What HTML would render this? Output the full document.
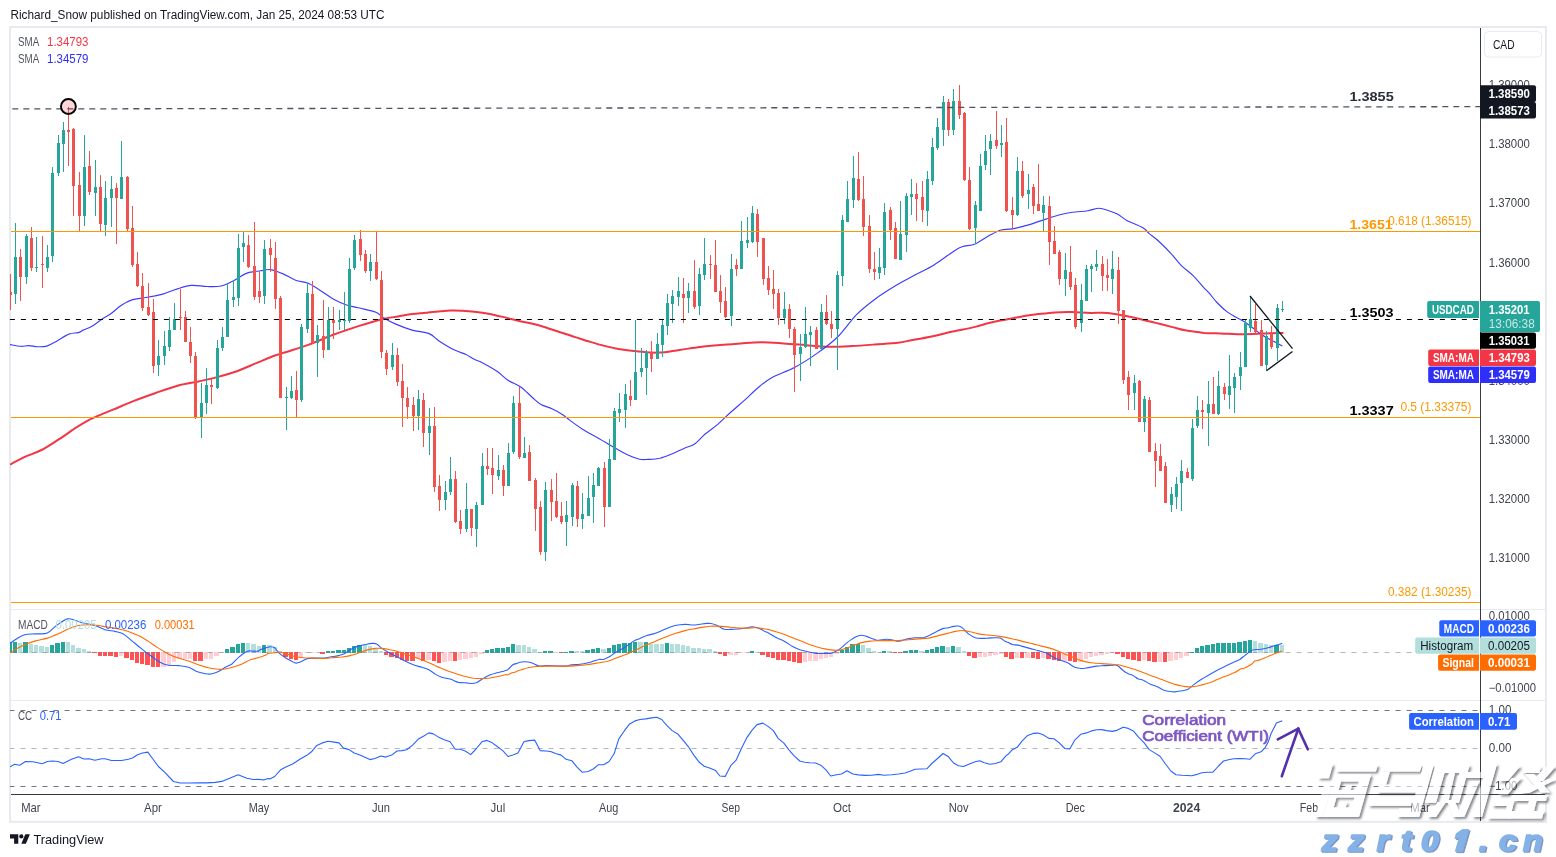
<!DOCTYPE html>
<html><head><meta charset="utf-8"><title>USDCAD chart</title>
<style>html,body{margin:0;padding:0;background:#fff}body{width:1556px;height:857px;overflow:hidden}svg{display:block;font-family:'Liberation Sans',sans-serif;will-change:transform}text{white-space:pre}</style>
</head><body>
<svg width="1556" height="857" viewBox="0 0 1556 857">
<defs><filter id="ws" x="-5%" y="-10%" width="110%" height="125%"><feGaussianBlur in="SourceAlpha" stdDeviation="0.9" result="b"/><feOffset in="b" dx="1.8" dy="1.8" result="o"/><feComposite in="o" in2="SourceAlpha" operator="out" result="sh"/><feFlood flood-color="#2a2e39" flood-opacity="0.55"/><feComposite in2="sh" operator="in" result="shc"/><feComponentTransfer in="SourceGraphic" result="sg"><feFuncA type="linear" slope="0.6"/></feComponentTransfer><feMerge><feMergeNode in="shc"/><feMergeNode in="sg"/></feMerge></filter><clipPath id="plot"><rect x="10" y="28" width="1470" height="766"/></clipPath></defs>
<rect x="0" y="0" width="1556" height="857" fill="#fff"/>
<text x="10.5" y="18.9" font-size="12.3" fill="#131722" textLength="374" lengthAdjust="spacingAndGlyphs">Richard_Snow published on TradingView.com, Jan 25, 2024 08:53 UTC</text>
<rect x="10" y="27" width="1536" height="794.8" fill="none" stroke="#e8eaf0" stroke-width="2"/>
<rect x="11" y="609" width="1534" height="1" fill="#e8eaf0"/>
<rect x="11" y="700" width="1534" height="1" fill="#e8eaf0"/>
<g clip-path="url(#plot)">
<line x1="9.5" y1="710.5" x2="1480" y2="710.5" stroke="#73767f" stroke-width="1" stroke-dasharray="5 6" stroke-dashoffset="0"/>
<line x1="9.5" y1="748.5" x2="1480" y2="748.5" stroke="#b2b5be" stroke-width="1" stroke-dasharray="5 6" stroke-dashoffset="0"/>
<line x1="9.5" y1="786.5" x2="1480" y2="786.5" stroke="#73767f" stroke-width="1" stroke-dasharray="5 6" stroke-dashoffset="0"/>
<path d="M10.5,464.3 C12.9,463.1 19.6,459.3 24.8,456.9 C30.0,454.5 36.0,452.9 41.6,450.0 C47.2,447.1 52.8,443.3 58.4,439.7 C64.0,436.1 70.3,431.4 75.2,428.2 C80.1,425.0 84.3,422.5 87.8,420.6 C91.3,418.7 92.0,418.4 96.2,416.6 C100.4,414.8 106.7,412.3 113.0,409.7 C119.3,407.1 127.0,403.6 134.0,400.9 C141.0,398.1 147.8,395.7 155.0,393.2 C162.2,390.7 170.4,387.6 177.5,385.7 C184.6,383.8 190.7,383.1 197.3,381.7 C203.9,380.3 210.5,378.9 217.1,377.1 C223.7,375.4 230.4,373.6 237.0,371.2 C243.6,368.8 251.2,365.2 256.8,362.9 C262.4,360.6 266.1,358.9 270.5,357.2 C274.9,355.5 276.8,354.9 283.1,352.9 C289.4,350.8 299.9,347.9 308.2,344.9 C316.5,341.9 324.8,337.9 333.2,334.8 C341.6,331.7 349.9,328.7 358.3,326.1 C366.7,323.5 376.8,320.6 383.4,319.0 C390.0,317.4 393.2,317.3 398.0,316.5 C402.8,315.7 407.4,314.7 412.1,314.1 C416.8,313.5 421.6,313.2 426.3,312.7 C431.0,312.2 436.4,311.6 440.4,311.3 C444.4,311.0 446.8,310.7 450.3,310.6 C453.8,310.5 457.6,310.6 461.6,310.8 C465.6,311.0 469.8,311.2 474.3,311.7 C478.8,312.2 483.8,312.8 488.5,313.7 C493.2,314.6 497.7,315.7 502.6,316.9 C507.6,318.1 513.0,319.5 518.2,320.7 C523.4,321.9 528.8,322.8 533.7,324.0 C538.7,325.2 543.2,326.8 547.9,328.2 C552.6,329.6 557.3,331.2 562.0,332.7 C566.7,334.2 571.4,335.9 576.1,337.4 C580.8,338.9 585.6,340.5 590.3,341.9 C595.0,343.3 599.7,344.7 604.4,345.9 C609.1,347.1 612.7,348.0 618.4,348.9 C624.1,349.8 632.0,350.9 638.8,351.5 C645.6,352.1 652.4,352.9 659.2,352.6 C666.0,352.3 672.8,350.8 679.6,349.9 C686.4,349.0 693.2,347.8 700.0,347.0 C706.8,346.2 713.6,345.6 720.4,345.0 C727.2,344.4 734.2,343.9 740.9,343.4 C747.6,342.9 753.7,342.2 760.8,342.2 C767.9,342.2 775.9,342.9 783.5,343.4 C791.1,343.9 798.7,344.6 806.3,345.2 C813.9,345.8 821.4,346.6 829.0,346.8 C836.6,347.0 844.2,346.5 851.8,346.1 C859.4,345.7 866.9,345.1 874.6,344.5 C882.3,343.9 891.7,343.4 898.0,342.7 C904.3,341.9 906.5,341.1 912.5,340.0 C918.5,338.9 927.3,337.3 934.0,335.9 C940.7,334.5 945.9,333.1 952.7,331.6 C959.6,330.1 968.9,328.4 975.1,326.9 C981.3,325.4 984.4,324.1 990.0,322.8 C995.6,321.5 1002.5,320.3 1008.7,319.1 C1014.9,317.9 1022.5,316.2 1027.4,315.4 C1032.3,314.6 1033.4,314.6 1038.0,314.1 C1042.6,313.6 1049.2,312.8 1054.8,312.4 C1060.4,312.0 1065.6,311.9 1071.6,312.0 C1077.5,312.1 1084.5,312.8 1090.5,312.9 C1096.5,313.0 1102.0,312.5 1107.3,312.9 C1112.5,313.3 1116.8,314.2 1122.0,315.2 C1127.2,316.2 1133.2,317.4 1138.8,318.7 C1144.4,320.0 1150.0,321.5 1155.6,322.9 C1161.2,324.3 1167.5,325.9 1172.4,327.1 C1177.3,328.3 1180.7,329.5 1185.0,330.3 C1189.3,331.1 1194.8,331.6 1198.0,332.0 C1201.2,332.4 1200.5,332.6 1204.3,332.9 C1208.1,333.1 1215.2,333.3 1220.7,333.5 C1226.2,333.7 1231.6,334.2 1237.0,334.3 C1242.4,334.4 1247.8,334.2 1253.3,334.0 C1258.8,333.8 1264.8,333.4 1269.7,333.2 C1274.6,333.0 1280.5,332.9 1282.7,332.9" fill="none" stroke="#f23645" stroke-width="2" stroke-linejoin="round" stroke-linecap="round"/>
<path d="M10.5,344.6 C12.2,344.9 17.5,346.1 20.6,346.3 C23.7,346.5 26.2,345.5 29.0,345.6 C31.8,345.7 34.4,346.6 37.4,346.7 C40.4,346.8 43.6,347.0 46.8,346.1 C49.9,345.2 52.6,343.4 56.3,341.4 C60.0,339.4 65.2,335.6 68.9,334.1 C72.6,332.6 75.8,333.3 78.3,332.6 C80.8,331.9 81.3,330.9 83.6,329.9 C85.9,328.8 88.8,328.1 92.0,326.3 C95.2,324.5 99.3,320.9 102.5,318.8 C105.7,316.7 107.8,315.9 110.9,313.7 C114.1,311.4 117.9,307.6 121.4,305.3 C124.9,303.0 128.1,301.1 131.9,299.9 C135.8,298.6 140.7,298.5 144.5,297.8 C148.3,297.1 151.8,296.5 155.0,295.9 C158.2,295.2 159.8,295.1 163.6,293.9 C167.3,292.7 172.9,290.3 177.5,288.9 C182.1,287.5 186.5,285.8 191.4,285.4 C196.3,285.0 202.2,286.4 207.2,286.5 C212.1,286.6 216.8,286.9 221.1,286.0 C225.4,285.1 230.3,282.2 233.0,281.0 C235.7,279.8 234.7,280.0 237.0,278.7 C239.3,277.4 243.0,274.4 246.9,273.1 C250.8,271.8 256.8,271.4 260.7,270.8 C264.6,270.2 266.8,269.1 270.5,269.6 C274.2,270.1 278.9,272.1 283.1,273.9 C287.3,275.7 291.4,278.6 295.6,280.2 C299.8,281.8 304.0,281.4 308.2,283.2 C312.4,284.9 316.5,288.1 320.7,290.7 C324.9,293.3 329.0,296.7 333.2,299.0 C337.4,301.3 341.6,303.2 345.8,304.7 C350.0,306.2 353.3,306.5 358.3,307.8 C363.3,309.1 371.7,310.6 375.9,312.3 C380.1,314.0 380.1,315.8 383.4,317.8 C386.7,319.8 391.1,322.1 395.9,324.1 C400.7,326.2 406.6,328.5 412.1,330.1 C417.6,331.7 424.6,331.8 429.1,333.6 C433.6,335.4 434.8,338.1 439.0,340.9 C443.2,343.6 450.1,347.9 454.6,350.1 C459.1,352.4 462.6,352.9 465.9,354.4 C469.2,355.9 471.5,357.9 474.3,359.3 C477.1,360.7 479.0,360.9 482.8,362.9 C486.6,364.9 492.8,368.4 497.0,371.3 C501.2,374.2 504.3,377.9 508.3,380.5 C512.3,383.1 517.0,384.4 521.0,387.2 C525.0,390.0 528.8,394.3 532.1,397.2 C535.4,400.1 537.7,402.6 541.0,404.5 C544.3,406.4 548.3,407.0 552.0,408.7 C555.7,410.4 560.4,413.2 563.1,414.9 C565.8,416.6 565.0,416.6 568.2,419.0 C571.4,421.4 577.4,426.0 582.5,429.2 C587.6,432.4 593.4,435.3 598.8,438.4 C604.2,441.5 610.3,445.3 615.1,448.0 C619.9,450.7 623.3,452.8 627.4,454.7 C631.5,456.6 636.2,458.4 639.6,459.2 C643.0,460.0 644.4,459.6 647.8,459.4 C651.2,459.2 655.9,459.1 660.0,458.2 C664.1,457.2 668.2,455.4 672.3,453.7 C676.4,452.0 680.8,449.8 684.5,448.2 C688.2,446.6 691.3,446.2 694.7,443.9 C698.1,441.6 701.0,437.6 704.9,434.3 C708.8,431.0 713.6,427.8 718.0,424.1 C722.4,420.4 726.5,416.0 731.0,412.0 C735.5,408.0 740.4,403.9 744.9,399.9 C749.4,395.8 753.5,391.4 758.0,387.7 C762.5,384.0 766.0,380.9 772.1,377.5 C778.2,374.1 787.3,371.4 794.9,367.3 C802.5,363.2 810.5,358.0 817.7,352.9 C824.9,347.8 831.7,342.8 838.1,336.5 C844.5,330.2 850.2,321.1 856.3,314.9 C862.4,308.7 867.9,304.5 874.6,299.5 C881.3,294.5 889.9,289.2 896.7,285.1 C903.5,281.0 909.1,278.2 915.3,274.8 C921.5,271.4 927.8,268.8 934.0,265.0 C940.2,261.2 948.0,255.0 952.7,251.9 C957.4,248.8 958.3,248.0 962.0,246.7 C965.7,245.4 970.4,245.9 975.1,244.0 C979.8,242.1 985.6,237.4 990.0,235.1 C994.4,232.8 997.5,231.0 1001.2,230.0 C1004.9,229.0 1007.7,229.8 1012.4,228.9 C1017.1,228.0 1023.8,226.2 1029.4,224.6 C1035.0,223.0 1040.7,220.7 1045.8,219.1 C1050.9,217.5 1055.6,215.9 1060.0,214.8 C1064.4,213.7 1067.6,213.0 1072.3,212.3 C1077.0,211.6 1083.5,211.4 1088.0,210.7 C1092.5,210.0 1095.5,208.2 1099.0,208.2 C1102.5,208.2 1105.7,209.7 1108.8,210.7 C1111.9,211.7 1114.3,212.3 1117.4,214.0 C1120.5,215.7 1124.1,219.0 1127.2,220.7 C1130.3,222.4 1133.0,223.1 1135.8,224.4 C1138.6,225.7 1142.1,227.2 1144.3,228.7 C1146.5,230.2 1146.8,231.5 1149.2,233.6 C1151.7,235.7 1155.3,238.1 1159.0,241.5 C1162.7,244.9 1167.6,249.8 1171.3,253.8 C1175.0,257.8 1177.4,261.7 1181.1,265.4 C1184.8,269.1 1189.6,272.2 1193.3,275.8 C1197.0,279.4 1200.4,284.0 1203.1,286.9 C1205.8,289.8 1206.8,290.5 1209.2,293.2 C1211.6,295.9 1214.4,299.9 1217.4,303.0 C1220.4,306.1 1223.9,309.4 1227.2,311.9 C1230.5,314.3 1234.0,316.0 1237.0,317.7 C1240.0,319.4 1242.5,320.4 1245.2,322.2 C1247.9,324.0 1250.6,326.2 1253.3,328.3 C1256.0,330.4 1258.8,332.6 1261.5,334.5 C1264.2,336.4 1267.2,338.0 1269.7,339.4 C1272.2,340.8 1274.2,341.6 1276.2,342.7 C1278.2,343.8 1281.0,345.3 1281.9,345.8" fill="none" stroke="#3c3cff" stroke-width="1.15" stroke-linejoin="round" stroke-linecap="round"/>
<rect x="10" y="274" width="1" height="36" fill="#ef5350"/>
<rect x="9" y="292" width="3" height="3" fill="#ef5350"/>
<rect x="15" y="223" width="1" height="81" fill="#26a69a"/>
<rect x="14" y="257" width="3" height="37" fill="#26a69a"/>
<rect x="20" y="249" width="1" height="52" fill="#ef5350"/>
<rect x="19" y="257" width="3" height="20" fill="#ef5350"/>
<rect x="26" y="234" width="1" height="50" fill="#26a69a"/>
<rect x="25" y="236" width="3" height="41" fill="#26a69a"/>
<rect x="31" y="227" width="1" height="44" fill="#ef5350"/>
<rect x="30" y="238" width="3" height="30" fill="#ef5350"/>
<rect x="36" y="237" width="1" height="35" fill="#26a69a"/>
<rect x="35" y="267" width="3" height="1" fill="#26a69a"/>
<rect x="42" y="236" width="1" height="52" fill="#ef5350"/>
<rect x="41" y="264" width="3" height="1" fill="#ef5350"/>
<rect x="47" y="245" width="1" height="27" fill="#26a69a"/>
<rect x="46" y="257" width="3" height="11" fill="#26a69a"/>
<rect x="52" y="167" width="1" height="95" fill="#26a69a"/>
<rect x="51" y="173" width="3" height="83" fill="#26a69a"/>
<rect x="58" y="135" width="1" height="41" fill="#26a69a"/>
<rect x="57" y="143" width="3" height="30" fill="#26a69a"/>
<rect x="63" y="122" width="1" height="50" fill="#26a69a"/>
<rect x="62" y="130" width="3" height="14" fill="#26a69a"/>
<rect x="68" y="107" width="1" height="59" fill="#ef5350"/>
<rect x="67" y="130" width="3" height="2" fill="#ef5350"/>
<rect x="73" y="128" width="1" height="88" fill="#ef5350"/>
<rect x="72" y="129" width="3" height="57" fill="#ef5350"/>
<rect x="79" y="172" width="1" height="59" fill="#ef5350"/>
<rect x="78" y="185" width="3" height="31" fill="#ef5350"/>
<rect x="84" y="135" width="1" height="91" fill="#26a69a"/>
<rect x="83" y="167" width="3" height="49" fill="#26a69a"/>
<rect x="89" y="151" width="1" height="44" fill="#ef5350"/>
<rect x="88" y="166" width="3" height="26" fill="#ef5350"/>
<rect x="95" y="160" width="1" height="56" fill="#26a69a"/>
<rect x="94" y="187" width="3" height="6" fill="#26a69a"/>
<rect x="100" y="175" width="1" height="56" fill="#ef5350"/>
<rect x="99" y="187" width="3" height="37" fill="#ef5350"/>
<rect x="105" y="181" width="1" height="55" fill="#26a69a"/>
<rect x="104" y="198" width="3" height="27" fill="#26a69a"/>
<rect x="111" y="176" width="1" height="51" fill="#26a69a"/>
<rect x="110" y="189" width="3" height="9" fill="#26a69a"/>
<rect x="116" y="183" width="1" height="61" fill="#ef5350"/>
<rect x="115" y="188" width="3" height="10" fill="#ef5350"/>
<rect x="121" y="141" width="1" height="58" fill="#26a69a"/>
<rect x="120" y="177" width="3" height="22" fill="#26a69a"/>
<rect x="127" y="176" width="1" height="55" fill="#ef5350"/>
<rect x="126" y="177" width="3" height="52" fill="#ef5350"/>
<rect x="132" y="206" width="1" height="61" fill="#ef5350"/>
<rect x="131" y="228" width="3" height="37" fill="#ef5350"/>
<rect x="137" y="252" width="1" height="35" fill="#ef5350"/>
<rect x="136" y="264" width="3" height="22" fill="#ef5350"/>
<rect x="142" y="273" width="1" height="38" fill="#ef5350"/>
<rect x="141" y="286" width="3" height="22" fill="#ef5350"/>
<rect x="148" y="283" width="1" height="33" fill="#ef5350"/>
<rect x="147" y="307" width="3" height="8" fill="#ef5350"/>
<rect x="153" y="299" width="1" height="74" fill="#ef5350"/>
<rect x="152" y="312" width="3" height="54" fill="#ef5350"/>
<rect x="158" y="340" width="1" height="36" fill="#26a69a"/>
<rect x="157" y="356" width="3" height="9" fill="#26a69a"/>
<rect x="164" y="331" width="1" height="34" fill="#26a69a"/>
<rect x="163" y="346" width="3" height="10" fill="#26a69a"/>
<rect x="169" y="317" width="1" height="34" fill="#26a69a"/>
<rect x="168" y="330" width="3" height="17" fill="#26a69a"/>
<rect x="174" y="303" width="1" height="27" fill="#26a69a"/>
<rect x="173" y="319" width="3" height="11" fill="#26a69a"/>
<rect x="180" y="289" width="1" height="41" fill="#ef5350"/>
<rect x="179" y="317" width="3" height="1" fill="#ef5350"/>
<rect x="185" y="311" width="1" height="31" fill="#ef5350"/>
<rect x="184" y="317" width="3" height="25" fill="#ef5350"/>
<rect x="190" y="327" width="1" height="36" fill="#ef5350"/>
<rect x="189" y="342" width="3" height="14" fill="#ef5350"/>
<rect x="195" y="352" width="1" height="67" fill="#ef5350"/>
<rect x="194" y="356" width="3" height="61" fill="#ef5350"/>
<rect x="201" y="383" width="1" height="55" fill="#26a69a"/>
<rect x="200" y="403" width="3" height="14" fill="#26a69a"/>
<rect x="206" y="368" width="1" height="46" fill="#26a69a"/>
<rect x="205" y="385" width="3" height="18" fill="#26a69a"/>
<rect x="211" y="379" width="1" height="25" fill="#ef5350"/>
<rect x="210" y="385" width="3" height="2" fill="#ef5350"/>
<rect x="217" y="340" width="1" height="49" fill="#26a69a"/>
<rect x="216" y="348" width="3" height="40" fill="#26a69a"/>
<rect x="222" y="327" width="1" height="24" fill="#26a69a"/>
<rect x="221" y="337" width="3" height="11" fill="#26a69a"/>
<rect x="227" y="284" width="1" height="53" fill="#26a69a"/>
<rect x="226" y="300" width="3" height="37" fill="#26a69a"/>
<rect x="233" y="280" width="1" height="27" fill="#26a69a"/>
<rect x="232" y="297" width="3" height="3" fill="#26a69a"/>
<rect x="238" y="234" width="1" height="72" fill="#26a69a"/>
<rect x="237" y="248" width="3" height="50" fill="#26a69a"/>
<rect x="243" y="232" width="1" height="30" fill="#26a69a"/>
<rect x="242" y="243" width="3" height="4" fill="#26a69a"/>
<rect x="248" y="235" width="1" height="33" fill="#ef5350"/>
<rect x="247" y="245" width="3" height="22" fill="#ef5350"/>
<rect x="254" y="222" width="1" height="78" fill="#ef5350"/>
<rect x="253" y="266" width="3" height="31" fill="#ef5350"/>
<rect x="259" y="271" width="1" height="32" fill="#ef5350"/>
<rect x="258" y="291" width="3" height="6" fill="#ef5350"/>
<rect x="264" y="240" width="1" height="64" fill="#26a69a"/>
<rect x="263" y="249" width="3" height="47" fill="#26a69a"/>
<rect x="270" y="239" width="1" height="33" fill="#ef5350"/>
<rect x="269" y="248" width="3" height="7" fill="#ef5350"/>
<rect x="275" y="242" width="1" height="67" fill="#ef5350"/>
<rect x="274" y="258" width="3" height="41" fill="#ef5350"/>
<rect x="280" y="296" width="1" height="102" fill="#ef5350"/>
<rect x="279" y="298" width="3" height="100" fill="#ef5350"/>
<rect x="286" y="387" width="1" height="43" fill="#26a69a"/>
<rect x="285" y="397" width="3" height="1" fill="#26a69a"/>
<rect x="291" y="376" width="1" height="23" fill="#26a69a"/>
<rect x="290" y="391" width="3" height="7" fill="#26a69a"/>
<rect x="296" y="371" width="1" height="47" fill="#ef5350"/>
<rect x="295" y="390" width="3" height="10" fill="#ef5350"/>
<rect x="301" y="324" width="1" height="78" fill="#26a69a"/>
<rect x="300" y="327" width="3" height="73" fill="#26a69a"/>
<rect x="307" y="283" width="1" height="50" fill="#26a69a"/>
<rect x="306" y="293" width="3" height="36" fill="#26a69a"/>
<rect x="312" y="281" width="1" height="63" fill="#ef5350"/>
<rect x="311" y="294" width="3" height="49" fill="#ef5350"/>
<rect x="317" y="325" width="1" height="52" fill="#26a69a"/>
<rect x="316" y="335" width="3" height="8" fill="#26a69a"/>
<rect x="323" y="300" width="1" height="58" fill="#ef5350"/>
<rect x="322" y="336" width="3" height="14" fill="#ef5350"/>
<rect x="328" y="307" width="1" height="43" fill="#26a69a"/>
<rect x="327" y="320" width="3" height="30" fill="#26a69a"/>
<rect x="333" y="307" width="1" height="32" fill="#ef5350"/>
<rect x="332" y="320" width="3" height="3" fill="#ef5350"/>
<rect x="339" y="310" width="1" height="20" fill="#26a69a"/>
<rect x="338" y="320" width="3" height="2" fill="#26a69a"/>
<rect x="344" y="292" width="1" height="38" fill="#26a69a"/>
<rect x="343" y="320" width="3" height="1" fill="#26a69a"/>
<rect x="349" y="258" width="1" height="65" fill="#26a69a"/>
<rect x="348" y="269" width="3" height="52" fill="#26a69a"/>
<rect x="354" y="235" width="1" height="35" fill="#26a69a"/>
<rect x="353" y="240" width="3" height="28" fill="#26a69a"/>
<rect x="360" y="230" width="1" height="31" fill="#ef5350"/>
<rect x="359" y="239" width="3" height="16" fill="#ef5350"/>
<rect x="365" y="250" width="1" height="23" fill="#ef5350"/>
<rect x="364" y="254" width="3" height="17" fill="#ef5350"/>
<rect x="370" y="254" width="1" height="27" fill="#26a69a"/>
<rect x="369" y="262" width="3" height="9" fill="#26a69a"/>
<rect x="376" y="231" width="1" height="49" fill="#ef5350"/>
<rect x="375" y="262" width="3" height="17" fill="#ef5350"/>
<rect x="381" y="271" width="1" height="87" fill="#ef5350"/>
<rect x="380" y="280" width="3" height="72" fill="#ef5350"/>
<rect x="386" y="350" width="1" height="25" fill="#ef5350"/>
<rect x="385" y="353" width="3" height="16" fill="#ef5350"/>
<rect x="392" y="343" width="1" height="27" fill="#26a69a"/>
<rect x="391" y="355" width="3" height="12" fill="#26a69a"/>
<rect x="397" y="348" width="1" height="38" fill="#ef5350"/>
<rect x="396" y="355" width="3" height="27" fill="#ef5350"/>
<rect x="402" y="364" width="1" height="63" fill="#ef5350"/>
<rect x="401" y="381" width="3" height="17" fill="#ef5350"/>
<rect x="407" y="387" width="1" height="32" fill="#ef5350"/>
<rect x="406" y="398" width="3" height="9" fill="#ef5350"/>
<rect x="413" y="397" width="1" height="34" fill="#ef5350"/>
<rect x="412" y="405" width="3" height="11" fill="#ef5350"/>
<rect x="418" y="390" width="1" height="40" fill="#26a69a"/>
<rect x="417" y="399" width="3" height="17" fill="#26a69a"/>
<rect x="423" y="393" width="1" height="54" fill="#ef5350"/>
<rect x="422" y="400" width="3" height="33" fill="#ef5350"/>
<rect x="429" y="408" width="1" height="47" fill="#26a69a"/>
<rect x="428" y="426" width="3" height="7" fill="#26a69a"/>
<rect x="434" y="407" width="1" height="85" fill="#ef5350"/>
<rect x="433" y="426" width="3" height="61" fill="#ef5350"/>
<rect x="439" y="475" width="1" height="36" fill="#ef5350"/>
<rect x="438" y="486" width="3" height="14" fill="#ef5350"/>
<rect x="445" y="481" width="1" height="29" fill="#26a69a"/>
<rect x="444" y="492" width="3" height="8" fill="#26a69a"/>
<rect x="450" y="457" width="1" height="38" fill="#26a69a"/>
<rect x="449" y="479" width="3" height="13" fill="#26a69a"/>
<rect x="455" y="471" width="1" height="52" fill="#ef5350"/>
<rect x="454" y="479" width="3" height="43" fill="#ef5350"/>
<rect x="460" y="510" width="1" height="24" fill="#ef5350"/>
<rect x="459" y="521" width="3" height="8" fill="#ef5350"/>
<rect x="466" y="483" width="1" height="49" fill="#26a69a"/>
<rect x="465" y="509" width="3" height="20" fill="#26a69a"/>
<rect x="471" y="509" width="1" height="27" fill="#ef5350"/>
<rect x="470" y="509" width="3" height="19" fill="#ef5350"/>
<rect x="476" y="502" width="1" height="45" fill="#26a69a"/>
<rect x="475" y="505" width="3" height="24" fill="#26a69a"/>
<rect x="482" y="453" width="1" height="52" fill="#26a69a"/>
<rect x="481" y="466" width="3" height="39" fill="#26a69a"/>
<rect x="487" y="448" width="1" height="27" fill="#ef5350"/>
<rect x="486" y="466" width="3" height="3" fill="#ef5350"/>
<rect x="492" y="448" width="1" height="46" fill="#ef5350"/>
<rect x="491" y="468" width="3" height="7" fill="#ef5350"/>
<rect x="498" y="455" width="1" height="25" fill="#26a69a"/>
<rect x="497" y="470" width="3" height="6" fill="#26a69a"/>
<rect x="503" y="465" width="1" height="31" fill="#ef5350"/>
<rect x="502" y="470" width="3" height="16" fill="#ef5350"/>
<rect x="508" y="443" width="1" height="43" fill="#26a69a"/>
<rect x="507" y="453" width="3" height="33" fill="#26a69a"/>
<rect x="513" y="396" width="1" height="58" fill="#26a69a"/>
<rect x="512" y="403" width="3" height="49" fill="#26a69a"/>
<rect x="519" y="387" width="1" height="72" fill="#ef5350"/>
<rect x="518" y="403" width="3" height="54" fill="#ef5350"/>
<rect x="524" y="437" width="1" height="21" fill="#26a69a"/>
<rect x="523" y="453" width="3" height="5" fill="#26a69a"/>
<rect x="529" y="445" width="1" height="36" fill="#ef5350"/>
<rect x="528" y="452" width="3" height="29" fill="#ef5350"/>
<rect x="535" y="478" width="1" height="53" fill="#ef5350"/>
<rect x="534" y="480" width="3" height="29" fill="#ef5350"/>
<rect x="540" y="501" width="1" height="54" fill="#ef5350"/>
<rect x="539" y="507" width="3" height="45" fill="#ef5350"/>
<rect x="545" y="482" width="1" height="79" fill="#26a69a"/>
<rect x="544" y="490" width="3" height="62" fill="#26a69a"/>
<rect x="551" y="479" width="1" height="42" fill="#ef5350"/>
<rect x="550" y="490" width="3" height="12" fill="#ef5350"/>
<rect x="556" y="473" width="1" height="45" fill="#ef5350"/>
<rect x="555" y="501" width="3" height="16" fill="#ef5350"/>
<rect x="561" y="502" width="1" height="22" fill="#ef5350"/>
<rect x="560" y="516" width="3" height="6" fill="#ef5350"/>
<rect x="566" y="501" width="1" height="45" fill="#26a69a"/>
<rect x="565" y="515" width="3" height="7" fill="#26a69a"/>
<rect x="572" y="483" width="1" height="43" fill="#26a69a"/>
<rect x="571" y="485" width="3" height="32" fill="#26a69a"/>
<rect x="577" y="481" width="1" height="46" fill="#ef5350"/>
<rect x="576" y="486" width="3" height="33" fill="#ef5350"/>
<rect x="582" y="493" width="1" height="36" fill="#26a69a"/>
<rect x="581" y="514" width="3" height="5" fill="#26a69a"/>
<rect x="588" y="476" width="1" height="40" fill="#26a69a"/>
<rect x="587" y="498" width="3" height="18" fill="#26a69a"/>
<rect x="593" y="473" width="1" height="50" fill="#26a69a"/>
<rect x="592" y="485" width="3" height="12" fill="#26a69a"/>
<rect x="598" y="467" width="1" height="19" fill="#26a69a"/>
<rect x="597" y="468" width="3" height="18" fill="#26a69a"/>
<rect x="604" y="462" width="1" height="65" fill="#ef5350"/>
<rect x="603" y="468" width="3" height="39" fill="#ef5350"/>
<rect x="609" y="439" width="1" height="68" fill="#26a69a"/>
<rect x="608" y="459" width="3" height="48" fill="#26a69a"/>
<rect x="614" y="408" width="1" height="52" fill="#26a69a"/>
<rect x="613" y="411" width="3" height="49" fill="#26a69a"/>
<rect x="619" y="393" width="1" height="29" fill="#26a69a"/>
<rect x="618" y="409" width="3" height="4" fill="#26a69a"/>
<rect x="625" y="384" width="1" height="44" fill="#26a69a"/>
<rect x="624" y="394" width="3" height="16" fill="#26a69a"/>
<rect x="630" y="380" width="1" height="26" fill="#ef5350"/>
<rect x="629" y="396" width="3" height="4" fill="#ef5350"/>
<rect x="635" y="320" width="1" height="80" fill="#26a69a"/>
<rect x="634" y="372" width="3" height="28" fill="#26a69a"/>
<rect x="641" y="348" width="1" height="29" fill="#26a69a"/>
<rect x="640" y="368" width="3" height="4" fill="#26a69a"/>
<rect x="646" y="350" width="1" height="45" fill="#26a69a"/>
<rect x="645" y="352" width="3" height="16" fill="#26a69a"/>
<rect x="651" y="341" width="1" height="31" fill="#ef5350"/>
<rect x="650" y="352" width="3" height="7" fill="#ef5350"/>
<rect x="657" y="333" width="1" height="26" fill="#26a69a"/>
<rect x="656" y="344" width="3" height="15" fill="#26a69a"/>
<rect x="662" y="319" width="1" height="38" fill="#26a69a"/>
<rect x="661" y="325" width="3" height="20" fill="#26a69a"/>
<rect x="667" y="294" width="1" height="41" fill="#26a69a"/>
<rect x="666" y="303" width="3" height="23" fill="#26a69a"/>
<rect x="672" y="290" width="1" height="33" fill="#26a69a"/>
<rect x="671" y="296" width="3" height="8" fill="#26a69a"/>
<rect x="678" y="277" width="1" height="29" fill="#26a69a"/>
<rect x="677" y="291" width="3" height="6" fill="#26a69a"/>
<rect x="683" y="278" width="1" height="45" fill="#ef5350"/>
<rect x="682" y="294" width="3" height="4" fill="#ef5350"/>
<rect x="688" y="283" width="1" height="30" fill="#26a69a"/>
<rect x="687" y="291" width="3" height="7" fill="#26a69a"/>
<rect x="694" y="260" width="1" height="49" fill="#ef5350"/>
<rect x="693" y="291" width="3" height="16" fill="#ef5350"/>
<rect x="699" y="268" width="1" height="47" fill="#26a69a"/>
<rect x="698" y="274" width="3" height="32" fill="#26a69a"/>
<rect x="704" y="238" width="1" height="42" fill="#26a69a"/>
<rect x="703" y="264" width="3" height="11" fill="#26a69a"/>
<rect x="710" y="255" width="1" height="24" fill="#ef5350"/>
<rect x="709" y="264" width="3" height="1" fill="#ef5350"/>
<rect x="715" y="240" width="1" height="52" fill="#ef5350"/>
<rect x="714" y="265" width="3" height="27" fill="#ef5350"/>
<rect x="720" y="275" width="1" height="38" fill="#ef5350"/>
<rect x="719" y="291" width="3" height="11" fill="#ef5350"/>
<rect x="725" y="287" width="1" height="31" fill="#ef5350"/>
<rect x="724" y="301" width="3" height="16" fill="#ef5350"/>
<rect x="731" y="254" width="1" height="72" fill="#26a69a"/>
<rect x="730" y="269" width="3" height="47" fill="#26a69a"/>
<rect x="736" y="259" width="1" height="17" fill="#ef5350"/>
<rect x="735" y="265" width="3" height="4" fill="#ef5350"/>
<rect x="741" y="221" width="1" height="48" fill="#26a69a"/>
<rect x="740" y="241" width="3" height="28" fill="#26a69a"/>
<rect x="747" y="217" width="1" height="31" fill="#26a69a"/>
<rect x="746" y="240" width="3" height="3" fill="#26a69a"/>
<rect x="752" y="206" width="1" height="37" fill="#26a69a"/>
<rect x="751" y="213" width="3" height="29" fill="#26a69a"/>
<rect x="757" y="209" width="1" height="48" fill="#ef5350"/>
<rect x="756" y="214" width="3" height="28" fill="#ef5350"/>
<rect x="763" y="238" width="1" height="47" fill="#ef5350"/>
<rect x="762" y="238" width="3" height="41" fill="#ef5350"/>
<rect x="768" y="266" width="1" height="29" fill="#ef5350"/>
<rect x="767" y="278" width="3" height="12" fill="#ef5350"/>
<rect x="773" y="270" width="1" height="39" fill="#ef5350"/>
<rect x="772" y="289" width="3" height="5" fill="#ef5350"/>
<rect x="778" y="289" width="1" height="36" fill="#ef5350"/>
<rect x="777" y="293" width="3" height="25" fill="#ef5350"/>
<rect x="784" y="292" width="1" height="32" fill="#26a69a"/>
<rect x="783" y="309" width="3" height="9" fill="#26a69a"/>
<rect x="789" y="304" width="1" height="34" fill="#ef5350"/>
<rect x="788" y="309" width="3" height="20" fill="#ef5350"/>
<rect x="794" y="327" width="1" height="65" fill="#ef5350"/>
<rect x="793" y="329" width="3" height="26" fill="#ef5350"/>
<rect x="800" y="334" width="1" height="47" fill="#26a69a"/>
<rect x="799" y="347" width="3" height="7" fill="#26a69a"/>
<rect x="805" y="307" width="1" height="41" fill="#26a69a"/>
<rect x="804" y="334" width="3" height="13" fill="#26a69a"/>
<rect x="810" y="326" width="1" height="40" fill="#26a69a"/>
<rect x="809" y="332" width="3" height="3" fill="#26a69a"/>
<rect x="816" y="327" width="1" height="22" fill="#ef5350"/>
<rect x="815" y="330" width="3" height="19" fill="#ef5350"/>
<rect x="821" y="304" width="1" height="46" fill="#26a69a"/>
<rect x="820" y="312" width="3" height="37" fill="#26a69a"/>
<rect x="826" y="295" width="1" height="30" fill="#ef5350"/>
<rect x="825" y="312" width="3" height="12" fill="#ef5350"/>
<rect x="831" y="311" width="1" height="27" fill="#ef5350"/>
<rect x="830" y="324" width="3" height="5" fill="#ef5350"/>
<rect x="837" y="271" width="1" height="99" fill="#26a69a"/>
<rect x="836" y="275" width="3" height="54" fill="#26a69a"/>
<rect x="842" y="215" width="1" height="71" fill="#26a69a"/>
<rect x="841" y="220" width="3" height="56" fill="#26a69a"/>
<rect x="847" y="181" width="1" height="41" fill="#26a69a"/>
<rect x="846" y="199" width="3" height="23" fill="#26a69a"/>
<rect x="853" y="156" width="1" height="52" fill="#26a69a"/>
<rect x="852" y="178" width="3" height="22" fill="#26a69a"/>
<rect x="858" y="152" width="1" height="49" fill="#ef5350"/>
<rect x="857" y="179" width="3" height="21" fill="#ef5350"/>
<rect x="863" y="176" width="1" height="60" fill="#ef5350"/>
<rect x="862" y="199" width="3" height="28" fill="#ef5350"/>
<rect x="869" y="215" width="1" height="58" fill="#ef5350"/>
<rect x="868" y="226" width="3" height="43" fill="#ef5350"/>
<rect x="874" y="252" width="1" height="28" fill="#ef5350"/>
<rect x="873" y="269" width="3" height="3" fill="#ef5350"/>
<rect x="879" y="248" width="1" height="31" fill="#26a69a"/>
<rect x="878" y="267" width="3" height="6" fill="#26a69a"/>
<rect x="884" y="203" width="1" height="72" fill="#26a69a"/>
<rect x="883" y="212" width="3" height="56" fill="#26a69a"/>
<rect x="890" y="207" width="1" height="33" fill="#ef5350"/>
<rect x="889" y="210" width="3" height="20" fill="#ef5350"/>
<rect x="895" y="222" width="1" height="37" fill="#ef5350"/>
<rect x="894" y="228" width="3" height="31" fill="#ef5350"/>
<rect x="900" y="201" width="1" height="59" fill="#26a69a"/>
<rect x="899" y="234" width="3" height="26" fill="#26a69a"/>
<rect x="906" y="193" width="1" height="59" fill="#26a69a"/>
<rect x="905" y="196" width="3" height="39" fill="#26a69a"/>
<rect x="911" y="179" width="1" height="36" fill="#26a69a"/>
<rect x="910" y="194" width="3" height="3" fill="#26a69a"/>
<rect x="916" y="183" width="1" height="38" fill="#ef5350"/>
<rect x="915" y="194" width="3" height="5" fill="#ef5350"/>
<rect x="922" y="181" width="1" height="41" fill="#ef5350"/>
<rect x="921" y="197" width="3" height="13" fill="#ef5350"/>
<rect x="927" y="171" width="1" height="55" fill="#26a69a"/>
<rect x="926" y="179" width="3" height="32" fill="#26a69a"/>
<rect x="932" y="138" width="1" height="47" fill="#26a69a"/>
<rect x="931" y="147" width="3" height="34" fill="#26a69a"/>
<rect x="937" y="118" width="1" height="32" fill="#26a69a"/>
<rect x="936" y="127" width="3" height="21" fill="#26a69a"/>
<rect x="943" y="96" width="1" height="50" fill="#26a69a"/>
<rect x="942" y="102" width="3" height="28" fill="#26a69a"/>
<rect x="948" y="99" width="1" height="37" fill="#ef5350"/>
<rect x="947" y="102" width="3" height="28" fill="#ef5350"/>
<rect x="953" y="89" width="1" height="46" fill="#26a69a"/>
<rect x="952" y="101" width="3" height="29" fill="#26a69a"/>
<rect x="959" y="85" width="1" height="34" fill="#ef5350"/>
<rect x="958" y="101" width="3" height="14" fill="#ef5350"/>
<rect x="964" y="112" width="1" height="69" fill="#ef5350"/>
<rect x="963" y="113" width="3" height="67" fill="#ef5350"/>
<rect x="969" y="167" width="1" height="63" fill="#ef5350"/>
<rect x="968" y="180" width="3" height="49" fill="#ef5350"/>
<rect x="975" y="201" width="1" height="43" fill="#26a69a"/>
<rect x="974" y="205" width="3" height="23" fill="#26a69a"/>
<rect x="980" y="154" width="1" height="57" fill="#26a69a"/>
<rect x="979" y="166" width="3" height="45" fill="#26a69a"/>
<rect x="985" y="135" width="1" height="35" fill="#26a69a"/>
<rect x="984" y="151" width="3" height="14" fill="#26a69a"/>
<rect x="990" y="134" width="1" height="41" fill="#26a69a"/>
<rect x="989" y="141" width="3" height="8" fill="#26a69a"/>
<rect x="996" y="111" width="1" height="38" fill="#ef5350"/>
<rect x="995" y="140" width="3" height="6" fill="#ef5350"/>
<rect x="1001" y="125" width="1" height="32" fill="#26a69a"/>
<rect x="1000" y="143" width="3" height="2" fill="#26a69a"/>
<rect x="1006" y="118" width="1" height="94" fill="#ef5350"/>
<rect x="1005" y="142" width="3" height="69" fill="#ef5350"/>
<rect x="1012" y="197" width="1" height="32" fill="#ef5350"/>
<rect x="1011" y="210" width="3" height="5" fill="#ef5350"/>
<rect x="1017" y="157" width="1" height="59" fill="#26a69a"/>
<rect x="1016" y="171" width="3" height="44" fill="#26a69a"/>
<rect x="1022" y="161" width="1" height="37" fill="#ef5350"/>
<rect x="1021" y="171" width="3" height="25" fill="#ef5350"/>
<rect x="1028" y="174" width="1" height="35" fill="#26a69a"/>
<rect x="1027" y="190" width="3" height="4" fill="#26a69a"/>
<rect x="1033" y="184" width="1" height="30" fill="#ef5350"/>
<rect x="1032" y="187" width="3" height="19" fill="#ef5350"/>
<rect x="1038" y="164" width="1" height="47" fill="#ef5350"/>
<rect x="1037" y="204" width="3" height="7" fill="#ef5350"/>
<rect x="1043" y="196" width="1" height="35" fill="#26a69a"/>
<rect x="1042" y="205" width="3" height="8" fill="#26a69a"/>
<rect x="1049" y="196" width="1" height="69" fill="#ef5350"/>
<rect x="1048" y="206" width="3" height="36" fill="#ef5350"/>
<rect x="1054" y="226" width="1" height="28" fill="#ef5350"/>
<rect x="1053" y="241" width="3" height="13" fill="#ef5350"/>
<rect x="1059" y="250" width="1" height="35" fill="#ef5350"/>
<rect x="1058" y="252" width="3" height="27" fill="#ef5350"/>
<rect x="1065" y="253" width="1" height="43" fill="#26a69a"/>
<rect x="1064" y="270" width="3" height="9" fill="#26a69a"/>
<rect x="1070" y="246" width="1" height="44" fill="#ef5350"/>
<rect x="1069" y="272" width="3" height="15" fill="#ef5350"/>
<rect x="1075" y="278" width="1" height="51" fill="#ef5350"/>
<rect x="1074" y="285" width="3" height="42" fill="#ef5350"/>
<rect x="1081" y="284" width="1" height="48" fill="#26a69a"/>
<rect x="1080" y="300" width="3" height="23" fill="#26a69a"/>
<rect x="1086" y="265" width="1" height="36" fill="#26a69a"/>
<rect x="1085" y="269" width="3" height="32" fill="#26a69a"/>
<rect x="1091" y="264" width="1" height="28" fill="#26a69a"/>
<rect x="1090" y="266" width="3" height="3" fill="#26a69a"/>
<rect x="1096" y="250" width="1" height="21" fill="#26a69a"/>
<rect x="1095" y="264" width="3" height="3" fill="#26a69a"/>
<rect x="1102" y="256" width="1" height="35" fill="#ef5350"/>
<rect x="1101" y="264" width="3" height="12" fill="#ef5350"/>
<rect x="1107" y="259" width="1" height="32" fill="#ef5350"/>
<rect x="1106" y="275" width="3" height="3" fill="#ef5350"/>
<rect x="1112" y="251" width="1" height="43" fill="#26a69a"/>
<rect x="1111" y="269" width="3" height="10" fill="#26a69a"/>
<rect x="1118" y="257" width="1" height="67" fill="#ef5350"/>
<rect x="1117" y="270" width="3" height="41" fill="#ef5350"/>
<rect x="1123" y="310" width="1" height="74" fill="#ef5350"/>
<rect x="1122" y="310" width="3" height="70" fill="#ef5350"/>
<rect x="1128" y="371" width="1" height="39" fill="#ef5350"/>
<rect x="1127" y="377" width="3" height="18" fill="#ef5350"/>
<rect x="1134" y="375" width="1" height="35" fill="#26a69a"/>
<rect x="1133" y="383" width="3" height="10" fill="#26a69a"/>
<rect x="1139" y="380" width="1" height="42" fill="#ef5350"/>
<rect x="1138" y="381" width="3" height="41" fill="#ef5350"/>
<rect x="1144" y="396" width="1" height="36" fill="#26a69a"/>
<rect x="1143" y="399" width="3" height="23" fill="#26a69a"/>
<rect x="1149" y="397" width="1" height="55" fill="#ef5350"/>
<rect x="1148" y="400" width="3" height="52" fill="#ef5350"/>
<rect x="1155" y="443" width="1" height="44" fill="#ef5350"/>
<rect x="1154" y="451" width="3" height="10" fill="#ef5350"/>
<rect x="1160" y="444" width="1" height="27" fill="#ef5350"/>
<rect x="1159" y="456" width="3" height="15" fill="#ef5350"/>
<rect x="1165" y="462" width="1" height="41" fill="#ef5350"/>
<rect x="1164" y="466" width="3" height="37" fill="#ef5350"/>
<rect x="1171" y="487" width="1" height="25" fill="#26a69a"/>
<rect x="1170" y="494" width="3" height="11" fill="#26a69a"/>
<rect x="1176" y="477" width="1" height="32" fill="#26a69a"/>
<rect x="1175" y="484" width="3" height="13" fill="#26a69a"/>
<rect x="1181" y="460" width="1" height="51" fill="#26a69a"/>
<rect x="1180" y="471" width="3" height="12" fill="#26a69a"/>
<rect x="1187" y="468" width="1" height="10" fill="#ef5350"/>
<rect x="1186" y="472" width="3" height="6" fill="#ef5350"/>
<rect x="1192" y="419" width="1" height="62" fill="#26a69a"/>
<rect x="1191" y="428" width="3" height="51" fill="#26a69a"/>
<rect x="1197" y="396" width="1" height="32" fill="#26a69a"/>
<rect x="1196" y="410" width="3" height="16" fill="#26a69a"/>
<rect x="1202" y="400" width="1" height="29" fill="#ef5350"/>
<rect x="1201" y="410" width="3" height="2" fill="#ef5350"/>
<rect x="1208" y="381" width="1" height="65" fill="#26a69a"/>
<rect x="1207" y="404" width="3" height="9" fill="#26a69a"/>
<rect x="1213" y="377" width="1" height="37" fill="#ef5350"/>
<rect x="1212" y="404" width="3" height="10" fill="#ef5350"/>
<rect x="1218" y="371" width="1" height="44" fill="#26a69a"/>
<rect x="1217" y="386" width="3" height="28" fill="#26a69a"/>
<rect x="1224" y="383" width="1" height="17" fill="#ef5350"/>
<rect x="1223" y="387" width="3" height="7" fill="#ef5350"/>
<rect x="1229" y="355" width="1" height="54" fill="#26a69a"/>
<rect x="1228" y="386" width="3" height="9" fill="#26a69a"/>
<rect x="1234" y="373" width="1" height="40" fill="#26a69a"/>
<rect x="1233" y="377" width="3" height="11" fill="#26a69a"/>
<rect x="1240" y="352" width="1" height="38" fill="#26a69a"/>
<rect x="1239" y="367" width="3" height="9" fill="#26a69a"/>
<rect x="1245" y="320" width="1" height="47" fill="#26a69a"/>
<rect x="1244" y="323" width="3" height="44" fill="#26a69a"/>
<rect x="1250" y="296" width="1" height="36" fill="#26a69a"/>
<rect x="1249" y="319" width="3" height="9" fill="#26a69a"/>
<rect x="1255" y="304" width="1" height="29" fill="#ef5350"/>
<rect x="1254" y="321" width="3" height="11" fill="#ef5350"/>
<rect x="1261" y="320" width="1" height="46" fill="#ef5350"/>
<rect x="1260" y="330" width="3" height="36" fill="#ef5350"/>
<rect x="1266" y="331" width="1" height="39" fill="#26a69a"/>
<rect x="1265" y="336" width="3" height="29" fill="#26a69a"/>
<rect x="1271" y="326" width="1" height="23" fill="#ef5350"/>
<rect x="1270" y="334" width="3" height="13" fill="#ef5350"/>
<rect x="1277" y="304" width="1" height="57" fill="#26a69a"/>
<rect x="1276" y="308" width="3" height="40" fill="#26a69a"/>
<rect x="1282" y="301" width="1" height="11" fill="#26a69a"/>
<rect x="1281" y="309" width="3" height="1" fill="#26a69a"/>
<rect x="11" y="231.0" width="1469.5" height="1" fill="#ff9800"/>
<rect x="11" y="417.0" width="1469.5" height="1" fill="#ff9800"/>
<rect x="11" y="602.0" width="1469.5" height="1" fill="#ff9800"/>
<line x1="12.3" y1="108.95" x2="1480" y2="106.66" stroke="#4f5360" stroke-width="1.3" stroke-dasharray="6 5"/>
<line x1="9.9" y1="319.5" x2="1480" y2="319.5" stroke="#000" stroke-width="1.15" stroke-dasharray="5 6" stroke-dashoffset="0"/>
<rect x="8" y="642" width="4" height="11" fill="#26a69a"/>
<rect x="13" y="642" width="4" height="11" fill="#26a69a"/>
<rect x="18" y="643" width="4" height="10" fill="#b2dfdb"/>
<rect x="23" y="642" width="5" height="11" fill="#26a69a"/>
<rect x="29" y="644" width="4" height="9" fill="#b2dfdb"/>
<rect x="34" y="645" width="4" height="8" fill="#b2dfdb"/>
<rect x="39" y="646" width="5" height="7" fill="#b2dfdb"/>
<rect x="45" y="647" width="4" height="6" fill="#b2dfdb"/>
<rect x="50" y="645" width="4" height="8" fill="#26a69a"/>
<rect x="55" y="643" width="5" height="10" fill="#26a69a"/>
<rect x="61" y="642" width="4" height="11" fill="#26a69a"/>
<rect x="66" y="642" width="4" height="11" fill="#b2dfdb"/>
<rect x="71" y="645" width="4" height="8" fill="#b2dfdb"/>
<rect x="76" y="648" width="5" height="5" fill="#b2dfdb"/>
<rect x="82" y="649" width="4" height="4" fill="#b2dfdb"/>
<rect x="87" y="651" width="4" height="2" fill="#b2dfdb"/>
<rect x="92" y="652" width="5" height="1" fill="#ff5252"/>
<rect x="98" y="652" width="4" height="4" fill="#ff5252"/>
<rect x="103" y="652" width="4" height="4" fill="#ff5252"/>
<rect x="108" y="652" width="5" height="4" fill="#ff5252"/>
<rect x="114" y="652" width="4" height="5" fill="#ff5252"/>
<rect x="119" y="652" width="4" height="4" fill="#ffcdd2"/>
<rect x="124" y="652" width="5" height="6" fill="#ff5252"/>
<rect x="130" y="652" width="4" height="8" fill="#ff5252"/>
<rect x="135" y="652" width="4" height="11" fill="#ff5252"/>
<rect x="140" y="652" width="4" height="12" fill="#ff5252"/>
<rect x="145" y="652" width="5" height="13" fill="#ff5252"/>
<rect x="151" y="652" width="4" height="15" fill="#ff5252"/>
<rect x="156" y="652" width="4" height="15" fill="#ff5252"/>
<rect x="161" y="652" width="5" height="15" fill="#ffcdd2"/>
<rect x="167" y="652" width="4" height="13" fill="#ffcdd2"/>
<rect x="172" y="652" width="4" height="10" fill="#ffcdd2"/>
<rect x="177" y="652" width="5" height="7" fill="#ffcdd2"/>
<rect x="183" y="652" width="4" height="7" fill="#ffcdd2"/>
<rect x="188" y="652" width="4" height="7" fill="#ffcdd2"/>
<rect x="193" y="652" width="4" height="9" fill="#ff5252"/>
<rect x="198" y="652" width="5" height="9" fill="#ff5252"/>
<rect x="204" y="652" width="4" height="7" fill="#ffcdd2"/>
<rect x="209" y="652" width="4" height="7" fill="#ffcdd2"/>
<rect x="214" y="652" width="5" height="4" fill="#ffcdd2"/>
<rect x="220" y="652" width="4" height="1" fill="#ffcdd2"/>
<rect x="225" y="649" width="4" height="4" fill="#26a69a"/>
<rect x="230" y="647" width="5" height="6" fill="#26a69a"/>
<rect x="236" y="644" width="4" height="9" fill="#26a69a"/>
<rect x="241" y="643" width="4" height="10" fill="#26a69a"/>
<rect x="246" y="643" width="4" height="10" fill="#b2dfdb"/>
<rect x="251" y="644" width="5" height="9" fill="#b2dfdb"/>
<rect x="257" y="646" width="4" height="7" fill="#b2dfdb"/>
<rect x="262" y="645" width="4" height="8" fill="#26a69a"/>
<rect x="267" y="645" width="5" height="8" fill="#b2dfdb"/>
<rect x="273" y="647" width="4" height="6" fill="#b2dfdb"/>
<rect x="278" y="651" width="4" height="2" fill="#b2dfdb"/>
<rect x="283" y="652" width="5" height="5" fill="#ff5252"/>
<rect x="289" y="652" width="4" height="7" fill="#ff5252"/>
<rect x="294" y="652" width="4" height="8" fill="#ff5252"/>
<rect x="299" y="652" width="4" height="5" fill="#ffcdd2"/>
<rect x="304" y="652" width="5" height="1" fill="#ffcdd2"/>
<rect x="310" y="652" width="4" height="1" fill="#ffcdd2"/>
<rect x="315" y="652" width="4" height="1" fill="#ffcdd2"/>
<rect x="320" y="652" width="5" height="2" fill="#ff5252"/>
<rect x="326" y="651" width="4" height="2" fill="#26a69a"/>
<rect x="331" y="651" width="4" height="2" fill="#26a69a"/>
<rect x="336" y="650" width="5" height="3" fill="#26a69a"/>
<rect x="342" y="650" width="4" height="3" fill="#26a69a"/>
<rect x="347" y="648" width="4" height="5" fill="#26a69a"/>
<rect x="352" y="646" width="4" height="7" fill="#26a69a"/>
<rect x="357" y="645" width="5" height="8" fill="#26a69a"/>
<rect x="363" y="645" width="4" height="8" fill="#b2dfdb"/>
<rect x="368" y="646" width="4" height="7" fill="#b2dfdb"/>
<rect x="373" y="649" width="5" height="4" fill="#b2dfdb"/>
<rect x="379" y="651" width="4" height="2" fill="#b2dfdb"/>
<rect x="384" y="652" width="4" height="3" fill="#ff5252"/>
<rect x="389" y="652" width="5" height="5" fill="#ff5252"/>
<rect x="395" y="652" width="4" height="6" fill="#ff5252"/>
<rect x="400" y="652" width="4" height="8" fill="#ff5252"/>
<rect x="405" y="652" width="4" height="9" fill="#ff5252"/>
<rect x="410" y="652" width="5" height="9" fill="#ff5252"/>
<rect x="416" y="652" width="4" height="7" fill="#ffcdd2"/>
<rect x="421" y="652" width="4" height="9" fill="#ff5252"/>
<rect x="426" y="652" width="5" height="8" fill="#ffcdd2"/>
<rect x="432" y="652" width="4" height="9" fill="#ff5252"/>
<rect x="437" y="652" width="4" height="11" fill="#ff5252"/>
<rect x="442" y="652" width="5" height="10" fill="#ffcdd2"/>
<rect x="448" y="652" width="4" height="9" fill="#ffcdd2"/>
<rect x="453" y="652" width="4" height="9" fill="#ff5252"/>
<rect x="458" y="652" width="4" height="8" fill="#ffcdd2"/>
<rect x="463" y="652" width="5" height="7" fill="#ffcdd2"/>
<rect x="469" y="652" width="4" height="6" fill="#ffcdd2"/>
<rect x="474" y="652" width="4" height="5" fill="#ffcdd2"/>
<rect x="479" y="652" width="5" height="2" fill="#ffcdd2"/>
<rect x="485" y="650" width="4" height="3" fill="#26a69a"/>
<rect x="490" y="649" width="4" height="4" fill="#26a69a"/>
<rect x="495" y="648" width="5" height="5" fill="#26a69a"/>
<rect x="501" y="648" width="4" height="5" fill="#26a69a"/>
<rect x="506" y="647" width="4" height="6" fill="#26a69a"/>
<rect x="511" y="644" width="4" height="9" fill="#26a69a"/>
<rect x="516" y="645" width="5" height="8" fill="#b2dfdb"/>
<rect x="522" y="645" width="4" height="8" fill="#b2dfdb"/>
<rect x="527" y="647" width="4" height="6" fill="#b2dfdb"/>
<rect x="532" y="649" width="5" height="4" fill="#b2dfdb"/>
<rect x="538" y="652" width="4" height="1" fill="#b2dfdb"/>
<rect x="543" y="651" width="4" height="2" fill="#26a69a"/>
<rect x="548" y="651" width="5" height="2" fill="#26a69a"/>
<rect x="554" y="652" width="4" height="1" fill="#b2dfdb"/>
<rect x="559" y="652" width="4" height="1" fill="#ff5252"/>
<rect x="564" y="652" width="4" height="1" fill="#26a69a"/>
<rect x="569" y="651" width="5" height="2" fill="#26a69a"/>
<rect x="575" y="651" width="4" height="2" fill="#b2dfdb"/>
<rect x="580" y="651" width="4" height="2" fill="#b2dfdb"/>
<rect x="585" y="650" width="5" height="3" fill="#26a69a"/>
<rect x="591" y="649" width="4" height="4" fill="#26a69a"/>
<rect x="596" y="648" width="4" height="5" fill="#26a69a"/>
<rect x="601" y="649" width="5" height="4" fill="#b2dfdb"/>
<rect x="607" y="648" width="4" height="5" fill="#26a69a"/>
<rect x="612" y="645" width="4" height="8" fill="#26a69a"/>
<rect x="617" y="644" width="4" height="9" fill="#26a69a"/>
<rect x="622" y="643" width="5" height="10" fill="#26a69a"/>
<rect x="628" y="643" width="4" height="10" fill="#26a69a"/>
<rect x="633" y="642" width="4" height="11" fill="#26a69a"/>
<rect x="638" y="642" width="5" height="11" fill="#b2dfdb"/>
<rect x="644" y="642" width="4" height="11" fill="#26a69a"/>
<rect x="649" y="644" width="4" height="9" fill="#b2dfdb"/>
<rect x="654" y="644" width="5" height="9" fill="#b2dfdb"/>
<rect x="660" y="644" width="4" height="9" fill="#b2dfdb"/>
<rect x="665" y="643" width="4" height="10" fill="#26a69a"/>
<rect x="670" y="644" width="4" height="9" fill="#b2dfdb"/>
<rect x="675" y="644" width="5" height="9" fill="#b2dfdb"/>
<rect x="681" y="645" width="4" height="8" fill="#b2dfdb"/>
<rect x="686" y="646" width="4" height="7" fill="#b2dfdb"/>
<rect x="691" y="648" width="5" height="5" fill="#b2dfdb"/>
<rect x="697" y="648" width="4" height="5" fill="#b2dfdb"/>
<rect x="702" y="649" width="4" height="4" fill="#b2dfdb"/>
<rect x="707" y="649" width="5" height="4" fill="#b2dfdb"/>
<rect x="713" y="651" width="4" height="2" fill="#b2dfdb"/>
<rect x="718" y="652" width="4" height="2" fill="#ff5252"/>
<rect x="723" y="652" width="4" height="4" fill="#ff5252"/>
<rect x="728" y="652" width="5" height="3" fill="#ffcdd2"/>
<rect x="734" y="652" width="4" height="3" fill="#ffcdd2"/>
<rect x="739" y="652" width="4" height="1" fill="#ffcdd2"/>
<rect x="744" y="652" width="5" height="1" fill="#ffcdd2"/>
<rect x="750" y="651" width="4" height="2" fill="#26a69a"/>
<rect x="755" y="652" width="4" height="1" fill="#b2dfdb"/>
<rect x="760" y="652" width="5" height="3" fill="#ff5252"/>
<rect x="766" y="652" width="4" height="5" fill="#ff5252"/>
<rect x="771" y="652" width="4" height="6" fill="#ff5252"/>
<rect x="776" y="652" width="4" height="8" fill="#ff5252"/>
<rect x="781" y="652" width="5" height="8" fill="#ff5252"/>
<rect x="787" y="652" width="4" height="9" fill="#ff5252"/>
<rect x="792" y="652" width="4" height="10" fill="#ff5252"/>
<rect x="797" y="652" width="5" height="11" fill="#ff5252"/>
<rect x="803" y="652" width="4" height="10" fill="#ffcdd2"/>
<rect x="808" y="652" width="4" height="9" fill="#ffcdd2"/>
<rect x="813" y="652" width="5" height="9" fill="#ffcdd2"/>
<rect x="819" y="652" width="4" height="7" fill="#ffcdd2"/>
<rect x="824" y="652" width="4" height="6" fill="#ffcdd2"/>
<rect x="829" y="652" width="4" height="5" fill="#ffcdd2"/>
<rect x="834" y="652" width="5" height="2" fill="#ffcdd2"/>
<rect x="840" y="650" width="4" height="3" fill="#26a69a"/>
<rect x="845" y="647" width="4" height="6" fill="#26a69a"/>
<rect x="850" y="644" width="5" height="9" fill="#26a69a"/>
<rect x="856" y="644" width="4" height="9" fill="#26a69a"/>
<rect x="861" y="645" width="4" height="8" fill="#b2dfdb"/>
<rect x="866" y="648" width="5" height="5" fill="#b2dfdb"/>
<rect x="872" y="651" width="4" height="2" fill="#b2dfdb"/>
<rect x="877" y="652" width="4" height="1" fill="#b2dfdb"/>
<rect x="882" y="651" width="4" height="2" fill="#26a69a"/>
<rect x="887" y="651" width="5" height="2" fill="#b2dfdb"/>
<rect x="893" y="652" width="4" height="1" fill="#ff5252"/>
<rect x="898" y="652" width="4" height="1" fill="#ff5252"/>
<rect x="903" y="651" width="5" height="2" fill="#26a69a"/>
<rect x="909" y="650" width="4" height="3" fill="#26a69a"/>
<rect x="914" y="650" width="4" height="3" fill="#26a69a"/>
<rect x="919" y="651" width="5" height="2" fill="#b2dfdb"/>
<rect x="925" y="650" width="4" height="3" fill="#26a69a"/>
<rect x="930" y="649" width="4" height="4" fill="#26a69a"/>
<rect x="935" y="647" width="4" height="6" fill="#26a69a"/>
<rect x="940" y="646" width="5" height="7" fill="#26a69a"/>
<rect x="946" y="647" width="4" height="6" fill="#b2dfdb"/>
<rect x="951" y="646" width="4" height="7" fill="#26a69a"/>
<rect x="956" y="647" width="5" height="6" fill="#b2dfdb"/>
<rect x="962" y="651" width="4" height="2" fill="#b2dfdb"/>
<rect x="967" y="652" width="4" height="4" fill="#ff5252"/>
<rect x="972" y="652" width="5" height="6" fill="#ff5252"/>
<rect x="978" y="652" width="4" height="5" fill="#ffcdd2"/>
<rect x="983" y="652" width="4" height="5" fill="#ffcdd2"/>
<rect x="988" y="652" width="4" height="4" fill="#ffcdd2"/>
<rect x="993" y="652" width="5" height="3" fill="#ffcdd2"/>
<rect x="999" y="652" width="4" height="2" fill="#ffcdd2"/>
<rect x="1004" y="652" width="4" height="5" fill="#ff5252"/>
<rect x="1009" y="652" width="5" height="7" fill="#ff5252"/>
<rect x="1015" y="652" width="4" height="6" fill="#ffcdd2"/>
<rect x="1020" y="652" width="4" height="6" fill="#ff5252"/>
<rect x="1025" y="652" width="5" height="6" fill="#ffcdd2"/>
<rect x="1031" y="652" width="4" height="6" fill="#ff5252"/>
<rect x="1036" y="652" width="4" height="7" fill="#ff5252"/>
<rect x="1041" y="652" width="4" height="6" fill="#ffcdd2"/>
<rect x="1046" y="652" width="5" height="7" fill="#ff5252"/>
<rect x="1052" y="652" width="4" height="8" fill="#ff5252"/>
<rect x="1057" y="652" width="4" height="9" fill="#ff5252"/>
<rect x="1062" y="652" width="5" height="9" fill="#ffcdd2"/>
<rect x="1068" y="652" width="4" height="9" fill="#ff5252"/>
<rect x="1073" y="652" width="4" height="10" fill="#ff5252"/>
<rect x="1078" y="652" width="5" height="10" fill="#ffcdd2"/>
<rect x="1084" y="652" width="4" height="7" fill="#ffcdd2"/>
<rect x="1089" y="652" width="4" height="5" fill="#ffcdd2"/>
<rect x="1094" y="652" width="4" height="4" fill="#ffcdd2"/>
<rect x="1099" y="652" width="5" height="3" fill="#ffcdd2"/>
<rect x="1105" y="652" width="4" height="2" fill="#ffcdd2"/>
<rect x="1110" y="652" width="4" height="1" fill="#ffcdd2"/>
<rect x="1115" y="652" width="5" height="2" fill="#ff5252"/>
<rect x="1121" y="652" width="4" height="5" fill="#ff5252"/>
<rect x="1126" y="652" width="4" height="7" fill="#ff5252"/>
<rect x="1131" y="652" width="5" height="8" fill="#ff5252"/>
<rect x="1137" y="652" width="4" height="9" fill="#ff5252"/>
<rect x="1142" y="652" width="4" height="8" fill="#ffcdd2"/>
<rect x="1147" y="652" width="4" height="9" fill="#ff5252"/>
<rect x="1152" y="652" width="5" height="10" fill="#ff5252"/>
<rect x="1158" y="652" width="4" height="10" fill="#ffcdd2"/>
<rect x="1163" y="652" width="4" height="10" fill="#ff5252"/>
<rect x="1168" y="652" width="5" height="9" fill="#ffcdd2"/>
<rect x="1174" y="652" width="4" height="8" fill="#ffcdd2"/>
<rect x="1179" y="652" width="4" height="6" fill="#ffcdd2"/>
<rect x="1184" y="652" width="5" height="4" fill="#ffcdd2"/>
<rect x="1190" y="652" width="4" height="1" fill="#26a69a"/>
<rect x="1195" y="648" width="4" height="5" fill="#26a69a"/>
<rect x="1200" y="646" width="4" height="7" fill="#26a69a"/>
<rect x="1205" y="645" width="5" height="8" fill="#26a69a"/>
<rect x="1211" y="644" width="4" height="9" fill="#26a69a"/>
<rect x="1216" y="643" width="4" height="10" fill="#26a69a"/>
<rect x="1221" y="643" width="5" height="10" fill="#26a69a"/>
<rect x="1227" y="643" width="4" height="10" fill="#26a69a"/>
<rect x="1232" y="643" width="4" height="10" fill="#26a69a"/>
<rect x="1237" y="642" width="5" height="11" fill="#26a69a"/>
<rect x="1243" y="641" width="4" height="12" fill="#26a69a"/>
<rect x="1248" y="640" width="4" height="13" fill="#26a69a"/>
<rect x="1253" y="641" width="4" height="12" fill="#b2dfdb"/>
<rect x="1258" y="643" width="5" height="10" fill="#b2dfdb"/>
<rect x="1264" y="644" width="4" height="9" fill="#b2dfdb"/>
<rect x="1269" y="645" width="4" height="8" fill="#b2dfdb"/>
<rect x="1274" y="645" width="5" height="8" fill="#26a69a"/>
<rect x="1280" y="645" width="4" height="8" fill="#b2dfdb"/>
<line x1="9.5" y1="652.5" x2="1480" y2="652.5" stroke="#787b86" stroke-width="1" stroke-dasharray="5 6" stroke-dashoffset="0" stroke-opacity="0.55"/>
<path d="M10.5,643.1 C11.5,642.4 14.0,640.3 16.4,638.9 C18.7,637.5 21.4,635.6 24.7,634.7 C28.1,633.9 32.6,634.2 36.4,633.9 C40.2,633.6 43.9,634.5 47.3,633.1 C50.6,631.7 53.1,627.9 56.5,625.5 C59.8,623.2 64.3,619.8 67.3,618.9 C70.4,618.0 72.2,619.5 74.8,620.2 C77.5,620.9 79.8,622.1 83.2,623.0 C86.5,623.9 91.3,624.4 94.9,625.5 C98.5,626.7 101.6,628.7 104.9,629.7 C108.3,630.7 111.9,630.7 114.9,631.4 C118.0,632.1 120.5,632.4 123.3,633.9 C126.1,635.4 128.6,638.1 131.6,640.6 C134.7,643.1 138.3,646.3 141.7,648.9 C145.0,651.6 148.6,654.2 151.7,656.5 C154.8,658.7 157.3,660.8 160.0,662.3 C162.8,663.8 165.3,664.8 168.4,665.3 C171.5,665.9 175.1,665.3 178.4,665.6 C181.8,666.0 185.4,666.3 188.5,667.3 C191.5,668.3 194.0,670.4 196.8,671.5 C199.6,672.6 202.8,673.2 205.2,673.7 C207.5,674.1 208.8,674.4 211.0,674.0 C213.2,673.6 216.2,672.6 218.5,671.5 C220.9,670.4 223.0,668.6 225.2,667.3 C227.4,666.1 229.7,665.6 231.9,664.0 C234.1,662.3 236.1,659.4 238.6,657.3 C241.1,655.2 244.4,652.5 246.9,651.4 C249.4,650.4 251.8,651.2 253.6,651.1 C255.5,651.1 256.9,651.3 258.0,651.1 C259.1,650.9 259.2,650.3 260.3,649.8 C261.4,649.3 263.4,648.5 264.7,648.1 C266.0,647.7 267.0,647.5 268.0,647.3 C269.0,647.0 269.4,646.7 270.5,646.8 C271.7,646.8 273.3,646.8 274.7,647.8 C276.1,648.8 277.2,651.2 278.9,652.8 C280.6,654.4 282.6,655.9 284.7,657.3 C286.8,658.7 289.5,660.2 291.4,661.1 C293.3,662.1 294.4,663.1 296.1,663.1 C297.8,663.2 299.6,662.2 301.4,661.5 C303.3,660.7 305.1,659.2 307.3,658.6 C309.5,658.1 312.2,658.2 314.8,658.1 C317.5,658.0 320.7,658.3 323.2,658.1 C325.7,657.9 327.3,657.4 329.8,657.0 C332.4,656.5 335.7,656.2 338.2,655.6 C340.7,655.0 342.7,654.6 344.9,653.4 C347.1,652.3 349.3,650.2 351.6,648.9 C353.8,647.7 355.7,646.9 358.3,646.1 C360.8,645.3 364.2,644.7 366.6,644.3 C369.0,643.8 370.8,643.5 372.5,643.4 C374.1,643.4 375.1,643.1 376.6,643.9 C378.2,644.7 379.7,646.7 381.6,648.1 C383.6,649.5 385.8,650.9 388.3,652.3 C390.8,653.7 393.9,655.0 396.7,656.5 C399.5,657.9 402.2,659.7 405.0,661.1 C407.8,662.5 410.6,663.8 413.4,664.8 C416.2,665.8 419.2,666.5 421.7,667.3 C424.2,668.1 426.2,668.4 428.4,669.5 C430.7,670.6 432.9,672.7 435.1,674.0 C437.3,675.3 439.3,676.5 441.8,677.3 C444.3,678.2 447.4,678.2 450.1,679.0 C452.9,679.8 455.7,681.7 458.5,682.4 C461.3,683.0 464.8,682.7 466.9,682.9 C468.9,683.0 469.4,683.6 471.0,683.5 C472.7,683.4 474.8,683.2 476.9,682.4 C479.0,681.5 481.3,679.4 483.6,678.2 C485.8,676.9 488.0,675.7 490.2,674.8 C492.5,673.9 494.7,673.4 496.9,672.8 C499.2,672.2 501.8,671.7 503.6,671.2 C505.5,670.6 506.5,670.5 508.0,669.5 C509.5,668.4 511.1,665.9 512.8,664.8 C514.5,663.8 516.8,663.6 518.0,663.1 C519.1,662.7 518.6,662.5 519.7,662.3 C520.8,662.1 522.8,661.7 524.7,661.8 C526.7,661.9 529.0,662.1 531.4,662.8 C533.8,663.5 536.4,665.5 538.9,666.0 C541.4,666.5 543.5,665.6 546.4,665.6 C549.4,665.6 553.4,665.9 556.5,666.0 C559.5,666.1 562.3,666.3 564.8,666.1 C567.3,666.0 569.0,665.1 571.5,664.8 C574.0,664.5 577.1,664.6 579.8,664.3 C582.6,664.0 585.7,663.4 588.2,662.8 C590.7,662.2 593.1,661.2 594.9,660.6 C596.7,660.1 597.5,659.7 599.1,659.5 C600.6,659.2 602.3,659.8 604.1,659.3 C605.9,658.8 607.8,657.7 609.9,656.5 C612.0,655.2 614.1,653.3 616.6,651.8 C619.1,650.2 622.2,649.0 625.0,647.3 C627.7,645.5 630.8,642.9 633.3,641.4 C635.8,639.9 637.8,639.4 640.0,638.4 C642.2,637.4 644.5,636.3 646.7,635.6 C648.9,634.8 651.1,634.6 653.4,633.9 C655.6,633.2 657.8,632.3 660.0,631.4 C662.3,630.5 664.5,629.3 666.7,628.4 C669.0,627.5 671.2,626.7 673.4,626.0 C675.6,625.4 677.9,625.0 680.1,624.7 C682.3,624.4 684.6,624.3 686.8,624.4 C689.0,624.4 691.2,625.1 693.5,625.0 C695.7,625.0 697.9,624.5 700.1,624.2 C702.4,623.9 705.0,623.5 706.8,623.4 C708.6,623.3 709.5,623.3 711.0,623.5 C712.5,623.8 714.5,624.4 716.0,625.0 C717.6,625.7 718.8,626.5 720.2,627.2 C721.6,627.9 722.4,628.9 724.4,629.2 C726.3,629.6 729.5,629.4 731.9,629.4 C734.3,629.3 736.3,629.1 738.6,628.9 C740.8,628.7 743.0,628.4 745.3,628.1 C747.5,627.7 750.0,626.8 751.9,626.7 C753.9,626.7 755.3,627.2 757.0,627.7 C758.6,628.2 760.7,629.1 762.0,629.7 C763.3,630.3 763.7,630.9 764.7,631.4 C765.7,631.9 766.9,632.2 768.0,632.7 C769.1,633.3 769.7,633.8 771.4,634.7 C773.0,635.7 775.8,637.3 778.1,638.4 C780.3,639.5 782.2,640.0 784.7,641.4 C787.2,642.8 790.6,645.4 793.1,646.8 C795.6,648.2 797.3,648.9 799.8,649.8 C802.3,650.6 805.3,651.2 808.1,651.8 C810.9,652.4 813.7,653.2 816.5,653.4 C819.3,653.7 822.3,653.5 824.8,653.4 C827.3,653.4 829.6,653.5 831.5,653.1 C833.5,652.7 834.9,652.0 836.5,651.1 C838.2,650.2 839.9,648.9 841.5,647.6 C843.2,646.3 844.9,644.5 846.6,643.1 C848.2,641.7 849.9,640.5 851.6,639.4 C853.2,638.3 854.9,637.1 856.6,636.4 C858.3,635.7 859.9,635.2 861.6,635.2 C863.3,635.2 864.9,635.9 866.6,636.4 C868.3,636.9 869.9,637.8 871.6,638.4 C873.3,639.0 875.0,640.0 876.6,640.2 C878.3,640.5 880.0,639.9 881.6,639.7 C883.3,639.6 885.0,639.2 886.7,639.2 C888.3,639.2 890.0,639.4 891.7,639.7 C893.3,640.1 895.0,640.9 896.7,641.1 C898.4,641.2 899.7,641.0 901.7,640.6 C903.6,640.2 906.1,639.0 908.4,638.6 C910.6,638.1 912.6,637.9 915.1,637.7 C917.6,637.6 920.9,638.2 923.4,637.7 C925.9,637.3 927.9,636.1 930.1,635.1 C932.3,634.0 934.6,632.5 936.8,631.4 C939.0,630.3 941.5,629.0 943.5,628.4 C945.4,627.8 946.8,628.1 948.5,627.7 C950.1,627.4 951.8,626.7 953.5,626.4 C955.2,626.1 957.0,625.8 958.5,626.0 C960.0,626.3 961.0,626.7 962.7,628.1 C964.3,629.4 966.4,632.3 968.5,633.9 C970.6,635.5 973.0,637.0 975.2,637.7 C977.4,638.5 979.7,638.4 981.9,638.4 C984.1,638.5 986.3,638.2 988.6,638.1 C990.8,638.0 993.3,637.7 995.3,637.7 C997.2,637.7 998.6,637.5 1000.3,638.1 C1001.9,638.7 1004.0,640.7 1005.3,641.4 C1006.6,642.1 1006.9,641.8 1008.0,642.3 C1009.1,642.8 1010.3,644.0 1012.0,644.4 C1013.6,644.9 1016.4,644.8 1018.0,645.1 C1019.5,645.4 1019.4,645.5 1021.4,646.1 C1023.3,646.7 1026.9,647.7 1029.7,648.4 C1032.5,649.2 1035.3,649.8 1038.1,650.6 C1040.9,651.4 1043.6,651.9 1046.4,653.1 C1049.2,654.4 1052.3,656.9 1054.8,658.1 C1057.3,659.4 1059.2,659.8 1061.5,660.6 C1063.7,661.5 1065.9,662.0 1068.2,663.1 C1070.4,664.3 1072.6,666.4 1074.8,667.3 C1077.1,668.2 1079.3,668.4 1081.5,668.5 C1083.7,668.5 1085.7,668.0 1088.2,667.6 C1090.7,667.3 1093.8,666.5 1096.6,666.1 C1099.3,665.8 1102.1,665.8 1104.9,665.6 C1107.7,665.5 1111.2,665.1 1113.3,665.1 C1115.4,665.1 1115.8,664.7 1117.4,665.6 C1119.1,666.6 1121.5,669.3 1123.3,670.7 C1125.1,672.0 1126.6,672.8 1128.3,673.7 C1130.0,674.5 1131.6,674.8 1133.3,675.7 C1135.0,676.6 1136.7,678.3 1138.3,679.0 C1140.0,679.8 1141.4,679.3 1143.3,680.2 C1145.3,681.0 1147.8,683.0 1150.0,684.0 C1152.2,685.1 1154.5,685.6 1156.7,686.5 C1158.9,687.5 1161.2,689.0 1163.4,689.9 C1165.6,690.7 1168.1,691.2 1170.1,691.5 C1172.0,691.9 1173.1,692.0 1175.1,691.9 C1177.0,691.7 1179.7,691.1 1181.8,690.7 C1183.9,690.3 1185.7,690.5 1187.6,689.5 C1189.6,688.6 1191.1,686.6 1193.5,684.9 C1195.8,683.1 1199.0,680.8 1201.8,679.0 C1204.6,677.3 1207.4,675.9 1210.2,674.3 C1213.0,672.7 1215.7,670.9 1218.5,669.5 C1221.3,668.0 1224.4,666.8 1226.9,665.6 C1229.4,664.4 1231.4,663.3 1233.6,662.3 C1235.7,661.3 1237.8,660.6 1239.7,659.5 C1241.6,658.3 1243.5,656.5 1244.7,655.6 C1245.9,654.7 1246.1,654.6 1246.9,653.9 C1247.8,653.3 1248.6,652.1 1249.7,651.4 C1250.8,650.7 1251.9,650.1 1253.6,649.8 C1255.4,649.4 1257.9,649.6 1260.3,649.3 C1262.7,648.9 1265.3,648.5 1268.0,647.8 C1270.7,647.1 1274.2,645.8 1276.5,645.1 C1278.8,644.4 1280.9,643.7 1281.8,643.4" fill="none" stroke="#2962ff" stroke-width="1.1" stroke-linejoin="round" stroke-linecap="round"/>
<path d="M10.5,652.3 C11.8,651.6 15.4,649.5 18.0,648.1 C20.7,646.7 23.3,645.2 26.4,643.9 C29.4,642.7 32.9,641.6 36.4,640.6 C39.9,639.6 43.6,639.2 47.3,638.1 C50.9,637.0 54.6,635.4 58.1,633.9 C61.6,632.4 64.8,630.3 68.2,628.9 C71.5,627.5 74.8,626.2 78.2,625.5 C81.5,624.8 84.9,624.7 88.2,624.7 C91.5,624.7 94.9,625.1 98.2,625.5 C101.6,626.0 104.9,626.7 108.3,627.2 C111.6,627.8 114.9,628.2 118.3,628.9 C121.6,629.6 125.0,630.3 128.3,631.4 C131.6,632.5 135.0,633.9 138.3,635.6 C141.7,637.2 145.0,639.3 148.4,641.4 C151.7,643.5 155.0,646.0 158.4,648.1 C161.7,650.2 165.1,652.3 168.4,653.9 C171.7,655.6 175.1,656.9 178.4,658.1 C181.8,659.3 185.1,660.0 188.5,661.1 C191.8,662.2 195.1,663.7 198.5,664.8 C201.8,665.9 205.2,667.1 208.5,667.8 C211.8,668.6 215.5,669.2 218.5,669.3 C221.6,669.5 224.1,669.1 226.9,668.7 C229.7,668.2 232.7,667.3 235.2,666.5 C237.7,665.7 239.4,665.1 241.9,664.0 C244.4,662.9 247.6,660.8 250.3,659.8 C253.0,658.8 255.3,658.6 258.0,657.8 C260.7,657.0 264.7,655.5 266.4,654.8 C268.0,654.1 266.6,653.8 268.0,653.4 C269.4,653.1 272.8,653.0 274.7,652.8 C276.7,652.6 277.8,652.1 279.7,652.3 C281.7,652.5 283.9,653.3 286.4,653.9 C288.9,654.6 292.0,655.8 294.8,656.5 C297.5,657.1 300.0,657.5 303.1,657.8 C306.2,658.1 309.8,658.0 313.1,658.1 C316.5,658.2 320.1,658.5 323.2,658.5 C326.2,658.4 328.5,658.0 331.5,657.8 C334.6,657.5 338.5,657.3 341.5,657.0 C344.6,656.6 347.1,656.3 349.9,655.6 C352.7,655.0 355.5,654.0 358.3,653.1 C361.0,652.2 363.8,650.9 366.6,650.1 C369.4,649.3 372.5,648.7 375.0,648.4 C377.5,648.2 379.1,648.2 381.6,648.4 C384.1,648.7 387.2,649.2 390.0,649.8 C392.8,650.3 395.6,651.0 398.4,651.8 C401.1,652.6 403.9,653.5 406.7,654.4 C409.5,655.4 412.3,656.3 415.1,657.3 C417.8,658.3 420.6,659.5 423.4,660.6 C426.2,661.7 429.0,662.8 431.8,664.0 C434.6,665.2 437.3,666.6 440.1,667.8 C442.9,669.0 445.7,670.1 448.5,671.2 C451.3,672.2 454.0,673.1 456.8,674.0 C459.6,674.9 462.4,675.8 465.2,676.5 C468.0,677.2 471.0,677.8 473.5,678.2 C476.0,678.5 477.7,678.5 480.2,678.5 C482.7,678.5 485.8,678.5 488.6,678.2 C491.4,677.9 494.1,677.4 496.9,676.8 C499.7,676.3 503.4,675.2 505.3,674.8 C507.1,674.5 506.9,675.2 508.0,674.8 C509.1,674.5 510.9,673.2 512.0,672.8 C513.1,672.4 513.7,672.7 514.7,672.3 C515.7,672.0 516.9,671.1 518.0,670.7 C519.1,670.2 519.7,670.3 521.4,669.8 C523.0,669.3 525.5,668.4 528.1,667.8 C530.6,667.3 533.3,666.8 536.4,666.5 C539.5,666.2 543.1,666.2 546.4,666.1 C549.8,666.1 553.1,666.1 556.5,666.1 C559.8,666.1 563.1,666.2 566.5,666.1 C569.8,666.1 573.2,665.9 576.5,665.6 C579.8,665.4 583.2,665.2 586.5,664.8 C589.9,664.4 593.2,663.7 596.6,663.1 C599.9,662.6 603.5,662.2 606.6,661.5 C609.6,660.7 611.9,659.7 614.9,658.6 C618.0,657.5 621.6,656.1 625.0,654.8 C628.3,653.4 631.6,652.1 635.0,650.6 C638.3,649.1 641.7,647.1 645.0,645.6 C648.4,644.1 651.7,642.8 655.0,641.4 C658.4,640.0 661.7,638.5 665.1,637.2 C668.4,635.9 671.7,634.7 675.1,633.6 C678.4,632.5 681.8,631.4 685.1,630.6 C688.5,629.7 691.8,629.2 695.1,628.6 C698.5,627.9 702.1,627.3 705.2,626.9 C708.2,626.5 710.7,626.1 713.5,626.0 C716.3,626.0 719.1,626.2 721.9,626.4 C724.7,626.6 727.4,626.9 730.2,627.2 C733.0,627.5 735.8,627.9 738.6,628.1 C741.4,628.2 744.4,628.1 746.9,628.1 C749.4,628.0 751.8,627.8 753.6,627.7 C755.5,627.7 756.9,627.7 758.0,627.7 C759.1,627.8 758.9,627.8 760.3,628.1 C761.7,628.3 765.1,629.0 766.4,629.2 C767.6,629.4 766.6,629.0 768.0,629.4 C769.4,629.7 772.2,630.6 774.7,631.4 C777.2,632.1 780.3,632.9 783.1,633.9 C785.8,634.9 788.6,636.1 791.4,637.2 C794.2,638.4 797.0,639.5 799.8,640.6 C802.6,641.7 805.3,642.9 808.1,643.9 C810.9,645.0 813.7,645.9 816.5,646.8 C819.3,647.6 822.0,648.4 824.8,648.9 C827.6,649.5 830.7,649.9 833.2,650.1 C835.7,650.3 837.6,650.4 839.9,650.1 C842.1,649.8 844.3,648.9 846.6,648.1 C848.8,647.3 850.7,646.5 853.2,645.6 C855.7,644.7 858.8,643.3 861.6,642.6 C864.4,641.8 867.2,641.4 869.9,641.1 C872.7,640.8 875.2,640.8 878.3,640.7 C881.4,640.7 885.0,640.6 888.3,640.6 C891.7,640.6 895.0,640.7 898.4,640.6 C901.7,640.4 905.0,640.0 908.4,639.7 C911.7,639.5 915.1,639.2 918.4,638.9 C921.7,638.6 925.1,638.6 928.4,638.1 C931.8,637.5 935.1,636.4 938.5,635.6 C941.8,634.7 945.4,633.8 948.5,633.1 C951.5,632.3 954.3,631.5 956.8,631.1 C959.3,630.6 961.3,630.4 963.5,630.6 C965.7,630.7 967.7,631.2 970.2,631.7 C972.7,632.3 975.5,633.3 978.6,633.9 C981.6,634.5 985.2,634.7 988.6,635.1 C991.9,635.4 995.5,635.7 998.6,636.1 C1001.7,636.5 1004.4,637.0 1007.0,637.6 C1009.5,638.1 1012.1,638.9 1013.6,639.2 C1015.2,639.6 1015.6,639.6 1016.4,639.7 C1017.1,639.9 1016.6,639.7 1018.0,640.1 C1019.4,640.4 1022.2,641.3 1024.7,641.9 C1027.2,642.6 1030.3,643.2 1033.1,643.9 C1035.8,644.6 1038.6,645.4 1041.4,646.1 C1044.2,646.8 1047.0,647.3 1049.8,648.1 C1052.6,648.9 1055.3,650.0 1058.1,651.1 C1060.9,652.2 1063.7,653.6 1066.5,654.8 C1069.3,656.0 1072.0,657.1 1074.8,658.1 C1077.6,659.2 1080.4,660.4 1083.2,661.1 C1086.0,661.9 1088.5,662.4 1091.5,662.8 C1094.6,663.2 1098.2,663.4 1101.6,663.6 C1104.9,663.9 1108.8,664.1 1111.6,664.3 C1114.4,664.5 1116.0,664.4 1118.3,664.8 C1120.5,665.2 1122.5,665.8 1125.0,666.5 C1127.5,667.2 1130.5,668.1 1133.3,669.0 C1136.1,669.9 1138.9,671.0 1141.7,672.0 C1144.5,673.0 1147.2,674.1 1150.0,675.2 C1152.8,676.2 1155.6,677.1 1158.4,678.2 C1161.2,679.2 1163.9,680.5 1166.7,681.5 C1169.5,682.5 1172.6,683.6 1175.1,684.4 C1177.6,685.1 1179.5,685.6 1181.8,686.0 C1184.0,686.4 1186.2,686.8 1188.5,686.9 C1190.7,686.9 1192.9,686.9 1195.1,686.5 C1197.4,686.2 1199.3,685.6 1201.8,684.9 C1204.3,684.2 1207.4,683.3 1210.2,682.4 C1213.0,681.4 1215.7,680.1 1218.5,679.0 C1221.3,677.9 1224.1,676.8 1226.9,675.7 C1229.7,674.6 1232.8,673.5 1235.2,672.3 C1237.6,671.1 1240.0,669.1 1241.4,668.5 C1242.8,667.8 1241.8,669.2 1243.6,668.5 C1245.4,667.7 1250.1,665.2 1251.9,664.0 C1253.8,662.7 1253.3,661.8 1254.7,661.1 C1256.1,660.4 1258.1,660.6 1260.3,659.8 C1262.5,659.0 1265.3,657.6 1268.0,656.5 C1270.7,655.3 1274.2,654.0 1276.5,653.1 C1278.8,652.2 1280.9,651.4 1281.8,651.1" fill="none" stroke="#ff6d00" stroke-width="1.1" stroke-linejoin="round" stroke-linecap="round"/>
<polyline points="10.0,766.8 14.7,764.3 19.7,765.2 25.5,761.5 33.1,761.8 42.3,763.8 47.3,761.5 52.3,761.0 58.1,761.5 63.1,763.5 71.5,759.3 78.5,756.8 84.0,759.0 89.0,758.8 94.9,760.2 101.6,758.8 104.9,758.8 111.6,760.5 121.6,760.5 128.3,759.3 132.5,758.0 137.5,754.8 142.5,753.0 147.8,752.1 152.5,758.5 158.4,766.5 165.1,772.7 173.4,781.5 180.1,783.0 188.5,783.0 198.5,782.7 206.8,782.9 215.2,782.4 221.9,781.4 230.2,778.0 238.1,774.7 246.9,778.2 253.6,779.5 258.0,779.4 262.0,779.7 263.8,779.9 268.0,778.5 269.7,778.9 274.7,776.5 280.6,769.8 286.4,766.8 293.1,763.8 300.6,758.8 307.3,755.1 311.5,751.8 316.8,745.4 322.3,742.9 328.2,741.3 334.0,742.1 339.0,742.9 343.5,748.1 349.1,749.6 354.1,753.0 359.9,755.1 364.9,757.3 369.9,759.6 375.0,758.5 380.8,756.0 385.8,757.1 391.7,755.1 397.0,751.0 402.0,750.6 406.7,749.8 412.6,745.1 418.1,739.3 423.4,736.3 428.8,732.9 433.4,733.9 439.3,737.6 444.3,739.8 450.1,741.8 455.2,749.3 460.2,749.3 465.2,751.0 470.7,754.6 476.0,749.0 481.9,741.8 486.9,740.4 491.9,742.6 496.9,746.3 502.8,750.6 508.0,756.5 513.6,754.8 518.0,753.1 523.9,741.8 528.9,740.6 534.7,740.1 540.1,750.6 545.6,751.0 550.6,751.5 555.6,753.5 561.1,755.1 566.1,759.3 571.8,760.7 576.8,766.8 582.4,772.3 588.2,771.5 593.2,769.0 598.2,764.8 603.6,764.7 609.1,761.5 614.1,753.8 618.8,738.9 624.1,731.2 629.6,723.9 635.0,720.9 640.0,719.5 645.8,718.9 651.7,717.9 656.7,717.2 661.7,719.5 666.7,725.4 672.2,730.6 678.1,734.3 683.4,740.6 688.5,746.8 693.8,755.1 699.3,762.3 704.3,766.3 710.2,768.2 715.2,770.2 719.9,776.0 725.2,776.4 730.7,765.7 736.1,760.2 741.4,748.5 746.9,737.6 751.9,730.4 757.0,724.6 762.8,723.1 768.0,726.4 773.4,730.6 778.1,738.4 783.9,743.1 788.9,749.8 793.9,755.6 799.8,761.0 804.8,762.3 809.8,762.7 815.6,763.0 820.7,765.2 825.7,769.7 830.7,776.0 836.5,774.7 841.5,774.0 846.9,770.7 852.9,774.0 858.3,774.9 864.9,775.4 871.6,775.2 878.3,774.4 884.1,775.2 891.7,774.7 898.4,774.0 905.0,773.0 910.0,771.3 915.1,769.3 920.9,769.0 926.8,768.8 931.8,763.5 937.6,758.5 943.0,753.5 948.5,756.8 953.5,763.0 958.5,765.7 963.5,766.5 969.4,764.0 975.2,761.8 979.7,760.7 984.4,762.7 989.9,764.3 995.3,763.5 1000.8,761.8 1006.1,755.6 1008.0,754.3 1012.0,750.1 1017.2,747.3 1022.2,740.9 1027.7,735.4 1033.1,733.4 1038.1,733.1 1043.1,734.8 1048.9,738.4 1053.9,738.8 1059.0,742.6 1064.8,748.5 1069.8,749.0 1074.8,740.1 1080.7,734.3 1086.5,732.9 1091.5,730.9 1096.6,729.7 1101.6,729.6 1106.6,730.6 1112.4,731.4 1117.4,730.1 1123.3,727.2 1128.3,728.4 1133.3,730.9 1138.3,736.8 1144.2,742.9 1149.2,749.6 1155.0,753.1 1160.0,756.3 1165.1,763.5 1170.9,771.0 1175.9,774.7 1181.8,775.2 1186.8,775.5 1191.8,775.7 1196.8,774.4 1201.8,772.7 1207.7,772.2 1212.7,772.3 1218.5,766.0 1223.5,761.0 1228.6,759.8 1233.6,758.8 1239.4,758.5 1245.3,758.8 1249.8,759.3 1255.3,753.8 1261.1,751.8 1265.3,747.3 1268.0,742.6 1271.0,733.7 1276.4,722.9 1281.8,720.9" fill="none" stroke="#2962ff" stroke-width="1.1" stroke-linejoin="round" stroke-linecap="round"/>
</g>
<line x1="1250" y1="296" x2="1292.5" y2="348.7" stroke="#131722" stroke-width="1.3"/>
<line x1="1266.4" y1="370.8" x2="1292.5" y2="351.5" stroke="#131722" stroke-width="1.3"/>
<circle cx="68.4" cy="106.5" r="7.45" fill="rgba(242,54,69,0.2)" stroke="#000" stroke-width="1.9"/>
<text x="18" y="45.6" font-size="12" fill="#50535e" textLength="21.2" lengthAdjust="spacingAndGlyphs">SMA</text>
<text x="47" y="45.6" font-size="12" fill="#f23645" textLength="41.5" lengthAdjust="spacingAndGlyphs">1.34793</text>
<text x="18" y="63" font-size="12" fill="#50535e" textLength="21.2" lengthAdjust="spacingAndGlyphs">SMA</text>
<text x="47" y="63" font-size="12" fill="#2f2ffa" textLength="41.5" lengthAdjust="spacingAndGlyphs">1.34579</text>
<text x="18" y="628.9" font-size="12" fill="#50535e" textLength="29.8" lengthAdjust="spacingAndGlyphs">MACD</text>
<text x="55.6" y="628.9" font-size="12" fill="#b2dfdb" textLength="41" lengthAdjust="spacingAndGlyphs">0.00205</text>
<text x="104.9" y="628.9" font-size="12" fill="#2962ff" textLength="41.4" lengthAdjust="spacingAndGlyphs">0.00236</text>
<text x="154.7" y="628.9" font-size="12" fill="#ff6d00" textLength="40.1" lengthAdjust="spacingAndGlyphs">0.00031</text>
<text x="18" y="720" font-size="12" fill="#50535e" textLength="14.2" lengthAdjust="spacingAndGlyphs">CC</text>
<text x="39.7" y="720" font-size="12" fill="#2962ff" textLength="21.8" lengthAdjust="spacingAndGlyphs">0.71</text>
<text x="1349.4" y="100.6" font-size="13" fill="#2a2e39" font-weight="bold" textLength="44.3" lengthAdjust="spacingAndGlyphs">1.3855</text>
<text x="1349.4" y="316.6" font-size="13" fill="#000" font-weight="bold" textLength="44" lengthAdjust="spacingAndGlyphs">1.3503</text>
<text x="1349.4" y="414.7" font-size="13" fill="#000" font-weight="bold" textLength="44.3" lengthAdjust="spacingAndGlyphs">1.3337</text>
<text x="1349.4" y="228.5" font-size="13" fill="#ff9800" font-weight="bold" textLength="43.2" lengthAdjust="spacingAndGlyphs">1.3651</text>
<text x="1388.3" y="224.6" font-size="12" fill="#ff9800" textLength="83.2" lengthAdjust="spacingAndGlyphs">0.618 (1.36515)</text>
<text x="1400.4" y="411.1" font-size="12" fill="#ff9800" textLength="71.1" lengthAdjust="spacingAndGlyphs">0.5 (1.33375)</text>
<text x="1388" y="595.7" font-size="12" fill="#ff9800" textLength="83.5" lengthAdjust="spacingAndGlyphs">0.382 (1.30235)</text>
<rect x="1480" y="28" width="1" height="793" fill="#363a45"/>
<rect x="11" y="794" width="1534" height="1" fill="#363a45"/>
<text x="1488.7" y="89.2" font-size="12" fill="#40444f" textLength="41.2" lengthAdjust="spacingAndGlyphs">1.39000</text>
<text x="1488.7" y="148.3" font-size="12" fill="#40444f" textLength="41.2" lengthAdjust="spacingAndGlyphs">1.38000</text>
<text x="1488.7" y="207.4" font-size="12" fill="#40444f" textLength="41.2" lengthAdjust="spacingAndGlyphs">1.37000</text>
<text x="1488.7" y="266.5" font-size="12" fill="#40444f" textLength="41.2" lengthAdjust="spacingAndGlyphs">1.36000</text>
<text x="1488.7" y="325.6" font-size="12" fill="#40444f" textLength="41.2" lengthAdjust="spacingAndGlyphs">1.35000</text>
<text x="1488.7" y="384.7" font-size="12" fill="#40444f" textLength="41.2" lengthAdjust="spacingAndGlyphs">1.34000</text>
<text x="1488.7" y="444.0" font-size="12" fill="#40444f" textLength="41.2" lengthAdjust="spacingAndGlyphs">1.33000</text>
<text x="1488.7" y="503.1" font-size="12" fill="#40444f" textLength="41.2" lengthAdjust="spacingAndGlyphs">1.32000</text>
<text x="1488.7" y="562.1999999999999" font-size="12" fill="#40444f" textLength="41.2" lengthAdjust="spacingAndGlyphs">1.31000</text>
<text x="1488.7" y="620.3" font-size="12" fill="#40444f" textLength="41.2" lengthAdjust="spacingAndGlyphs">0.01000</text>
<text x="1488.7" y="692.0999999999999" font-size="12" fill="#40444f" textLength="47.2" lengthAdjust="spacingAndGlyphs">−0.01000</text>
<text x="1488.7" y="714.3" font-size="12" fill="#40444f" textLength="22.7" lengthAdjust="spacingAndGlyphs">1.00</text>
<text x="1488.7" y="752.0999999999999" font-size="12" fill="#40444f" textLength="22.7" lengthAdjust="spacingAndGlyphs">0.00</text>
<text x="1488.7" y="790.3" font-size="12" fill="#40444f" textLength="28.5" lengthAdjust="spacingAndGlyphs">−1.00</text>
<rect x="1484.5" y="31.5" width="57" height="25.5" rx="4" fill="#fff" stroke="#e8eaf0" stroke-width="1"/>
<text x="1493" y="49" font-size="12" fill="#131722" textLength="21.5" lengthAdjust="spacingAndGlyphs">CAD</text>
<path d="M1480,85.3 H1534 Q1536,85.3 1536,87.3 V100 Q1536,102 1534,102 H1480Z" fill="#131722"/>
<text x="1488.5" y="97.95" font-size="12" fill="#fff" font-weight="bold" textLength="41.5" lengthAdjust="spacingAndGlyphs">1.38590</text>
<path d="M1480,102 H1534 Q1536,102 1536,104 V116.6 Q1536,118.6 1534,118.6 H1480Z" fill="#131722"/>
<text x="1488.5" y="114.6" font-size="12" fill="#fff" font-weight="bold" textLength="41.5" lengthAdjust="spacingAndGlyphs">1.38573</text>
<path d="M1429.2,301 H1479 V318 H1429.2 Q1427.2,318 1427.2,316 V303 Q1427.2,301 1429.2,301Z" fill="#26a69a"/>
<text x="1431.9" y="313.8" font-size="12" fill="#fff" font-weight="bold" textLength="42" lengthAdjust="spacingAndGlyphs">USDCAD</text>
<path d="M1480,301 H1538 Q1540,301 1540,303 V330 Q1540,332 1538,332 H1480Z" fill="#26a69a"/>
<text x="1488.8" y="313.8" font-size="12" fill="#fff" font-weight="bold" textLength="40.7" lengthAdjust="spacingAndGlyphs">1.35201</text>
<text x="1488.8" y="327.9" font-size="12" fill="rgba(255,255,255,0.75)" textLength="45.9" lengthAdjust="spacingAndGlyphs">13:06:38</text>
<path d="M1480,332.4 H1534 Q1536,332.4 1536,334.4 V346.8 Q1536,348.8 1534,348.8 H1480Z" fill="#000"/>
<text x="1488.8" y="344.90000000000003" font-size="12" fill="#fff" font-weight="bold" textLength="40.7" lengthAdjust="spacingAndGlyphs">1.35031</text>
<path d="M1430.2,349.4 H1479 V366 H1430.2 Q1428.2,366 1428.2,364 V351.4 Q1428.2,349.4 1430.2,349.4Z" fill="#f23645"/>
<text x="1432.9" y="362.0" font-size="12" fill="#fff" font-weight="bold" textLength="41" lengthAdjust="spacingAndGlyphs">SMA:MA</text>
<path d="M1480,349.4 H1534 Q1536,349.4 1536,351.4 V364 Q1536,366 1534,366 H1480Z" fill="#f23645"/>
<text x="1488.8" y="362.0" font-size="12" fill="#fff" font-weight="bold" textLength="41" lengthAdjust="spacingAndGlyphs">1.34793</text>
<path d="M1430.2,366.4 H1479 V383 H1430.2 Q1428.2,383 1428.2,381 V368.4 Q1428.2,366.4 1430.2,366.4Z" fill="#2f2ffa"/>
<text x="1432.9" y="379.0" font-size="12" fill="#fff" font-weight="bold" textLength="41" lengthAdjust="spacingAndGlyphs">SMA:MA</text>
<path d="M1480,366.4 H1534 Q1536,366.4 1536,368.4 V381 Q1536,383 1534,383 H1480Z" fill="#2f2ffa"/>
<text x="1488.8" y="379.0" font-size="12" fill="#fff" font-weight="bold" textLength="41" lengthAdjust="spacingAndGlyphs">1.34579</text>
<path d="M1441.3,620.2 H1479 V636.6 H1441.3 Q1439.3,636.6 1439.3,634.6 V622.2 Q1439.3,620.2 1441.3,620.2Z" fill="#2962ff"/>
<text x="1443.8" y="632.7" font-size="12" fill="#fff" font-weight="bold" textLength="30.1" lengthAdjust="spacingAndGlyphs">MACD</text>
<path d="M1480,620.2 H1534 Q1536,620.2 1536,622.2 V634.6 Q1536,636.6 1534,636.6 H1480Z" fill="#2962ff"/>
<text x="1488" y="632.7" font-size="12" fill="#fff" font-weight="bold" textLength="42" lengthAdjust="spacingAndGlyphs">0.00236</text>
<path d="M1417.2,637.6 H1479 V653.8 H1417.2 Q1415.2,653.8 1415.2,651.8 V639.6 Q1415.2,637.6 1417.2,637.6Z" fill="#b2dfdb"/>
<text x="1420.2" y="650.0" font-size="12" fill="#131722" textLength="53" lengthAdjust="spacingAndGlyphs">Histogram</text>
<path d="M1480,637.6 H1534 Q1536,637.6 1536,639.6 V651.8 Q1536,653.8 1534,653.8 H1480Z" fill="#b2dfdb"/>
<text x="1488" y="650.0" font-size="12" fill="#131722" textLength="42" lengthAdjust="spacingAndGlyphs">0.00205</text>
<path d="M1440.1,654.4 H1479 V670.8 H1440.1 Q1438.1,670.8 1438.1,668.8 V656.4 Q1438.1,654.4 1440.1,654.4Z" fill="#ff6d00"/>
<text x="1442.4" y="666.8999999999999" font-size="12" fill="#fff" font-weight="bold" textLength="31.5" lengthAdjust="spacingAndGlyphs">Signal</text>
<path d="M1480,654.4 H1534 Q1536,654.4 1536,656.4 V668.8 Q1536,670.8 1534,670.8 H1480Z" fill="#ff6d00"/>
<text x="1488" y="666.8999999999999" font-size="12" fill="#fff" font-weight="bold" textLength="42" lengthAdjust="spacingAndGlyphs">0.00031</text>
<path d="M1411.1,713 H1479 V729.8 H1411.1 Q1409.1,729.8 1409.1,727.8 V715 Q1409.1,713 1411.1,713Z" fill="#2962ff"/>
<text x="1413.5" y="725.6999999999999" font-size="12" fill="#fff" font-weight="bold" textLength="60.4" lengthAdjust="spacingAndGlyphs">Correlation</text>
<path d="M1480,713 H1515 Q1517,713 1517,715 V727.8 Q1517,729.8 1515,729.8 H1480Z" fill="#2962ff"/>
<text x="1488" y="725.6999999999999" font-size="12" fill="#fff" font-weight="bold" textLength="22.3" lengthAdjust="spacingAndGlyphs">0.71</text>
<text x="1142.2" y="724.7" font-size="14" fill="#7e57c2" textLength="84" lengthAdjust="spacingAndGlyphs" stroke="#7e57c2" stroke-width="0.7">Correlation</text>
<text x="1142.2" y="740.5" font-size="14" fill="#7e57c2" textLength="126.8" lengthAdjust="spacingAndGlyphs" stroke="#7e57c2" stroke-width="0.7">Coefficient (WTI)</text>
<g stroke="#5530ab" stroke-width="2.6" stroke-linecap="round" fill="none"><line x1="1281.8" y1="776.2" x2="1298.3" y2="728.7"/><line x1="1298.3" y1="728.7" x2="1277.8" y2="739.4"/><line x1="1298.3" y1="728.7" x2="1307.8" y2="749.3"/></g>
<text x="21.2" y="812" font-size="12" fill="#40444f" textLength="19.4" lengthAdjust="spacingAndGlyphs">Mar</text>
<text x="144.05" y="812" font-size="12" fill="#40444f" textLength="17.7" lengthAdjust="spacingAndGlyphs">Apr</text>
<text x="248.75" y="812" font-size="12" fill="#40444f" textLength="20.5" lengthAdjust="spacingAndGlyphs">May</text>
<text x="372.0" y="812" font-size="12" fill="#40444f" textLength="18" lengthAdjust="spacingAndGlyphs">Jun</text>
<text x="490.59999999999997" y="812" font-size="12" fill="#40444f" textLength="14.6" lengthAdjust="spacingAndGlyphs">Jul</text>
<text x="598.9" y="812" font-size="12" fill="#40444f" textLength="19.4" lengthAdjust="spacingAndGlyphs">Aug</text>
<text x="721.5" y="812" font-size="12" fill="#40444f" textLength="18.4" lengthAdjust="spacingAndGlyphs">Sep</text>
<text x="833.0" y="812" font-size="12" fill="#40444f" textLength="18" lengthAdjust="spacingAndGlyphs">Oct</text>
<text x="948.8000000000001" y="812" font-size="12" fill="#40444f" textLength="19.8" lengthAdjust="spacingAndGlyphs">Nov</text>
<text x="1065.6499999999999" y="812" font-size="12" fill="#40444f" textLength="19.3" lengthAdjust="spacingAndGlyphs">Dec</text>
<text x="1173.0" y="812" font-size="12" fill="#40444f" font-weight="bold" textLength="27.2" lengthAdjust="spacingAndGlyphs">2024</text>
<text x="1299.75" y="812" font-size="12" fill="#40444f" textLength="18.3" lengthAdjust="spacingAndGlyphs">Feb</text>
<text x="1410.3" y="812" font-size="12" fill="#40444f" textLength="19.4" lengthAdjust="spacingAndGlyphs">Mar</text>
<g fill="#131722"><path d="M10,834.3 h8.3 v9.5 h-4.2 v-5.3 h-4.1z"/><circle cx="21.3" cy="836.4" r="2.1"/><path d="M25.3,834.3 h4.6 l-4,9.5 h-4.6z"/></g>
<text x="33.4" y="844.3" font-size="13" fill="#131722" textLength="70.2" lengthAdjust="spacingAndGlyphs">TradingView</text>
<g filter="url(#ws)" fill="#fff" fill-rule="evenodd"><g transform="translate(0,764) scale(1,0.9464) translate(0,-765)">
<path d="M1322.0,765 L1333.0,765 L1329.0,780 L1318.0,780Z"/>
<path d="M1323.8,788 L1331.8,788 L1323.0,821 L1315.0,821Z"/>
<path d="M1337.7,766 L1377.7,766 L1375.9,773 L1335.9,773Z"/>
<path d="M1335.1,776 L1371.1,776 L1359.0,821 L1323.0,821Z M1341.0,783.5 L1359.0,783.5 L1356.6,792.7 L1338.6,792.7Z M1336.5,800.5 L1354.5,800.5 L1351.7,811 L1333.7,811Z"/>
<path d="M1349,787.2 L1352,787.2 L1350,794.6 L1347,794.6Z"/>
<path d="M1344,805.2 L1347,805.2 L1345,813.6 L1342,813.6Z"/>
<path d="M1382.7,766 L1421.7,766 L1419.9,773 L1380.9,773Z"/>
<path d="M1381.9,773 L1389.9,773 L1386.1,787 L1378.1,787Z"/>
<path d="M1379.1,787 L1428.1,787 L1426.0,795 L1377.0,795Z"/>
<path d="M1423.7,766 L1433.7,766 L1419.0,821 L1409.0,821Z"/>
<path d="M1370.1,802 L1414.1,802 L1412.2,809 L1368.2,809Z"/>
<path d="M1399.4,812 L1421.4,812 L1419.0,821 L1397.0,821Z"/>
<path d="M1435.7,766 L1469.7,766 L1459.0,806 L1425.0,806Z M1444.5,774.5 L1459.5,774.5 L1451.0,806 L1436.0,806Z"/>
<path d="M1449,774.5 L1455,774.5 L1448,806.2 L1442,806.2Z"/>
<path d="M1438,805.2 L1446,805.2 L1436,821.0 L1427,821.0Z"/>
<path d="M1447,803.0 L1454,803.0 L1462,821.0 L1453,821.0Z"/>
<path d="M1462,773.5 L1493,773.5 L1491.5,779.8 L1460.5,779.8Z"/>
<path d="M1487.0,765 L1497.0,765 L1482.0,821 L1472.0,821Z"/>
<path d="M1471.5,783.0 L1479.5,783.0 L1464.4,820.7 L1456.4,820.7Z"/>
<path d="M1474,814.7 L1483,814.7 L1481.5,821.0 L1472.5,821.0Z"/>
<path d="M1511,767.1 L1520.4,767.1 L1507.7,783.0 L1498.3,783.0Z"/>
<path d="M1512,779.8 L1521.2,779.8 L1507.7,797.2 L1498.5,797.2Z"/>
<path d="M1493.5,803.0 L1514.5,803.0 L1513,809.4 L1492,809.4Z"/>
<path d="M1507,809.4 L1513,809.4 L1511.5,815.7 L1505.5,815.7Z"/>
<path d="M1489,815.7 L1511.5,815.7 L1510,822.6 L1487.5,822.6Z"/>
<path d="M1524,768.2 L1541,768.2 L1539.5,774.5 L1522.5,774.5Z"/>
<path d="M1546,767.1 L1556,767.1 L1543,783.0 L1533,783.0Z"/>
<path d="M1525,775.6 L1534,775.6 L1550,795.1 L1541,795.1Z"/>
<path d="M1548,780.8 L1557,780.8 L1529,795.6 L1519,795.6Z"/>
<path d="M1515,797.8 L1547.5,797.8 L1546,804.1 L1513.5,804.1Z"/>
<path d="M1529,804.1 L1536.5,804.1 L1534,814.7 L1526.5,814.7Z"/>
<path d="M1511,814.7 L1544,814.7 L1542,822.6 L1509,822.6Z"/>
</g></g>
<g transform="translate(1.3,1.3)" fill="#7f93c4" stroke="#7f93c4" stroke-width="1.7" stroke-linejoin="round"><text transform="scale(1.12,1)" x="1180.09 1203.84 1229.29 1250.98 1268.66 1320.54 1338.48 1359.82" y="851.2" font-size="28.6" font-weight="bold" font-style="italic">zzrt0.cn</text><path d="M1462.3,829.6 L1468.8,829.6 L1462.6,851.3 L1455.4,851.3 L1459.4,837.2 L1455,838.5 L1456.3,833.6Z" stroke-width="1"/></g>
<g transform="translate(0,0)" fill="#84b2e7" stroke="#84b2e7" stroke-width="1.7" stroke-linejoin="round"><text transform="scale(1.12,1)" x="1180.09 1203.84 1229.29 1250.98 1268.66 1320.54 1338.48 1359.82" y="851.2" font-size="28.6" font-weight="bold" font-style="italic">zzrt0.cn</text><path d="M1462.3,829.6 L1468.8,829.6 L1462.6,851.3 L1455.4,851.3 L1459.4,837.2 L1455,838.5 L1456.3,833.6Z" stroke-width="1"/></g>
</svg>
</body></html>
